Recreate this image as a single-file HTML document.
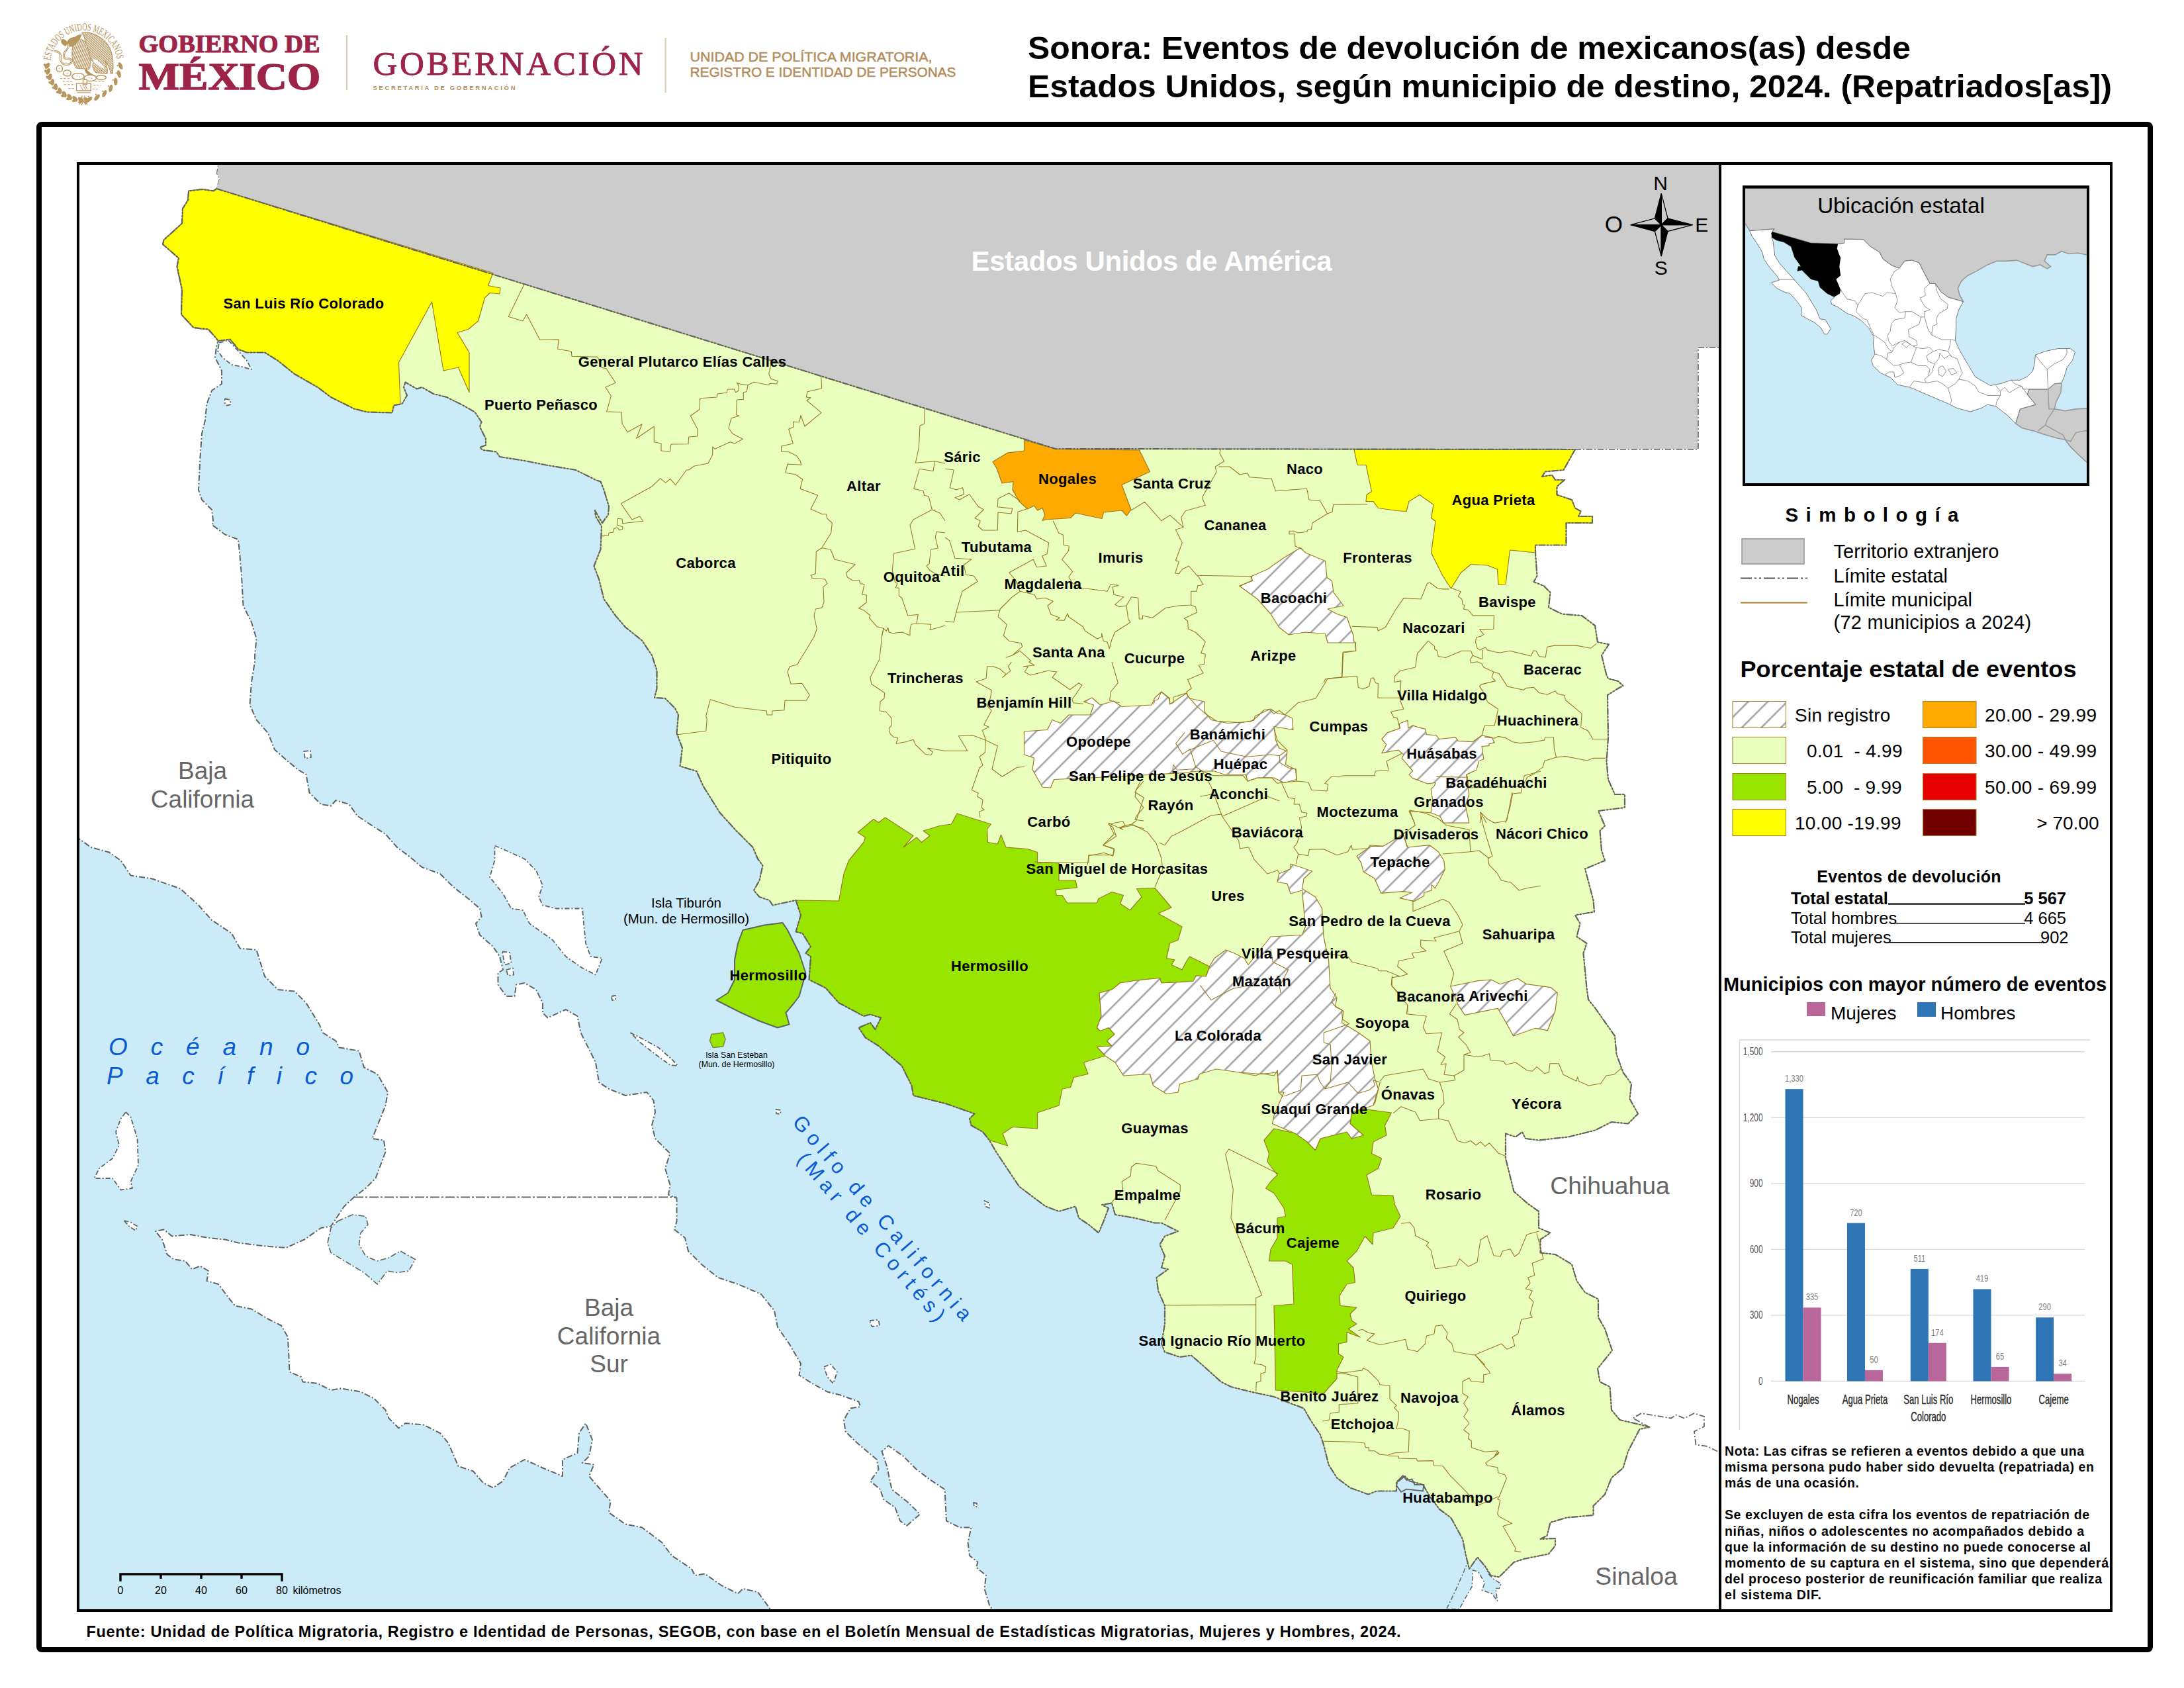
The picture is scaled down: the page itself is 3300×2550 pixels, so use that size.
<!DOCTYPE html>
<html lang="es"><head><meta charset="utf-8"><title>Sonora: Eventos de devolución de mexicanos(as) desde Estados Unidos, 2024</title>
<style>html,body{margin:0;padding:0;background:#fff}svg{display:block}text{white-space:pre}</style></head><body>
<svg width="3300" height="2550" viewBox="0 0 3300 2550">
<defs>
<pattern id="hatch" patternUnits="userSpaceOnUse" width="20.86" height="20.86" patternTransform="rotate(45)"><rect width="20.86" height="20.86" fill="#fff"/><line x1="11" y1="-1" x2="11" y2="22" stroke="#A3A3A3" stroke-width="2.6"/></pattern>
<clipPath id="mapclip"><rect x="120" y="249" width="2477" height="2182"/></clipPath>
<clipPath id="insetclip"><rect x="2637" y="285" width="516" height="445"/></clipPath>
</defs>
<rect width="3300" height="2550" fill="#fff"/>
<g id="header">
<g transform="translate(55,25) scale(0.08295)">
<defs><pattern id="sealh" patternUnits="userSpaceOnUse" width="26" height="26" patternTransform="rotate(-35)"><rect width="26" height="26" fill="#fff"/><rect width="26" height="15" fill="#B8975F"/></pattern><pattern id="sealv" patternUnits="userSpaceOnUse" width="30" height="30" patternTransform="rotate(20)"><rect width="30" height="30" fill="#fff"/><rect width="17" height="30" fill="#B8975F"/></pattern><path id="sealarc" d="M 258,802 A 610,610 0 0 1 1472,802"/></defs>
<text font-family="'Liberation Serif', serif" font-size="192" fill="#B8975F" stroke="#B8975F" stroke-width="1" textLength="1770" lengthAdjust="spacingAndGlyphs"><textPath href="#sealarc">ESTADOS UNIDOS MEXICANOS</textPath></text>
<path d="M830,300 C1000,260 1230,380 1330,560 C1400,690 1410,900 1385,1040 L1350,1035 C1340,930 1300,860 1250,800 C1290,900 1300,980 1290,1040 L1080,1020 C1020,960 1010,900 1040,830 C960,760 900,640 900,520 C890,420 870,350 830,300 Z" fill="url(#sealh)" stroke="#B8975F" stroke-width="14"/>
<path d="M1030,760 C1120,800 1200,870 1250,960 C1180,930 1100,880 1040,830 Z" fill="#fff"/>
<path d="M700,420 C800,380 900,430 930,560 C980,700 1010,860 960,960 L720,940 C680,860 640,760 650,650 C655,560 660,480 700,420 Z" fill="url(#sealv)" stroke="#B8975F" stroke-width="12"/>
<path d="M560,520 C540,440 600,380 700,370 C760,330 800,320 830,330 C800,400 760,470 700,520 C650,560 600,560 560,520 Z" fill="#B8975F"/>
<path d="M570,470 C520,400 470,400 450,430 C440,470 470,520 540,540 Z" fill="#B8975F"/>
<path d="M900,940 C940,1000 1020,1060 1090,1080 L1010,1100 C940,1080 900,1030 880,980 Z" fill="#B8975F"/>
<path d="M335,630 C420,640 450,680 440,760 C430,850 520,900 610,860 C680,820 640,760 560,770 C480,770 480,680 540,620 C590,570 600,540 580,500" fill="none" stroke="#B8975F" stroke-width="34" stroke-linecap="round"/>
<path d="M335,630 C420,640 450,680 440,760 C430,850 520,900 610,860 C680,820 640,760 560,770 C480,770 480,680 540,620 C590,570 600,540 580,500" fill="none" stroke="#fff" stroke-width="10" stroke-linecap="round"/>
<ellipse cx="420" cy="950" rx="55" ry="60" fill="#fff" stroke="#B8975F" stroke-width="18"/>
<ellipse cx="560" cy="1030" rx="70" ry="55" fill="#fff" stroke="#B8975F" stroke-width="18"/>
<ellipse cx="760" cy="1090" rx="110" ry="60" fill="#fff" stroke="#B8975F" stroke-width="18"/>
<ellipse cx="980" cy="1120" rx="110" ry="55" fill="#fff" stroke="#B8975F" stroke-width="18"/>
<ellipse cx="1180" cy="1110" rx="90" ry="40" fill="#fff" stroke="#B8975F" stroke-width="18"/>
<circle cx="740" cy="1085" r="9" fill="#B8975F"/>
<circle cx="790" cy="1100" r="9" fill="#B8975F"/>
<circle cx="960" cy="1115" r="9" fill="#B8975F"/>
<circle cx="1010" cy="1125" r="9" fill="#B8975F"/>
<circle cx="560" cy="1030" r="9" fill="#B8975F"/>
<circle cx="420" cy="950" r="9" fill="#B8975F"/>
<path d="M730,1220 H990 V1350 H730 Z M850,1150 H920 V1240 H850 Z" fill="#fff" stroke="#B8975F" stroke-width="16"/>
<path d="M790,1240 L850,1340 M840,1240 L900,1340 M890,1250 L930,1330" stroke="#B8975F" stroke-width="12" fill="none"/>
<path d="M740,1385 H990" stroke="#B8975F" stroke-width="14"/>
<path d="M430,1130 H620" stroke="#B8975F" stroke-width="12" stroke-dasharray="44 22" fill="none"/>
<path d="M480,1180 H660" stroke="#B8975F" stroke-width="12" stroke-dasharray="44 22" fill="none"/>
<path d="M500,1240 H700" stroke="#B8975F" stroke-width="12" stroke-dasharray="44 22" fill="none"/>
<path d="M580,1310 H700" stroke="#B8975F" stroke-width="12" stroke-dasharray="44 22" fill="none"/>
<path d="M1060,1180 H1250" stroke="#B8975F" stroke-width="12" stroke-dasharray="44 22" fill="none"/>
<path d="M1030,1250 H1180" stroke="#B8975F" stroke-width="12" stroke-dasharray="44 22" fill="none"/>
<path d="M1020,1320 H1120" stroke="#B8975F" stroke-width="12" stroke-dasharray="44 22" fill="none"/>
<ellipse cx="199" cy="897" rx="62" ry="36" transform="rotate(121 199 897)" fill="#B8975F"/>
<ellipse cx="171" cy="899" rx="50" ry="26" transform="rotate(46 171 899)" fill="#B8975F"/>
<ellipse cx="214" cy="1000" rx="62" ry="36" transform="rotate(112 214 1000)" fill="#B8975F"/>
<ellipse cx="187" cy="1007" rx="50" ry="26" transform="rotate(37 187 1007)" fill="#B8975F"/>
<ellipse cx="246" cy="1100" rx="62" ry="36" transform="rotate(103 246 1100)" fill="#B8975F"/>
<ellipse cx="220" cy="1111" rx="50" ry="26" transform="rotate(28 220 1111)" fill="#B8975F"/>
<ellipse cx="292" cy="1194" rx="62" ry="36" transform="rotate(94 292 1194)" fill="#B8975F"/>
<ellipse cx="268" cy="1208" rx="50" ry="26" transform="rotate(19 268 1208)" fill="#B8975F"/>
<ellipse cx="353" cy="1279" rx="62" ry="36" transform="rotate(85 353 1279)" fill="#B8975F"/>
<ellipse cx="332" cy="1297" rx="50" ry="26" transform="rotate(10 332 1297)" fill="#B8975F"/>
<ellipse cx="427" cy="1354" rx="62" ry="36" transform="rotate(76 427 1354)" fill="#B8975F"/>
<ellipse cx="408" cy="1375" rx="50" ry="26" transform="rotate(1 408 1375)" fill="#B8975F"/>
<ellipse cx="511" cy="1416" rx="62" ry="36" transform="rotate(67 511 1416)" fill="#B8975F"/>
<ellipse cx="496" cy="1440" rx="50" ry="26" transform="rotate(-8 496 1440)" fill="#B8975F"/>
<ellipse cx="604" cy="1465" rx="62" ry="36" transform="rotate(58 604 1465)" fill="#B8975F"/>
<ellipse cx="593" cy="1491" rx="50" ry="26" transform="rotate(-17 593 1491)" fill="#B8975F"/>
<ellipse cx="703" cy="1498" rx="62" ry="36" transform="rotate(49 703 1498)" fill="#B8975F"/>
<ellipse cx="697" cy="1525" rx="50" ry="26" transform="rotate(-26 697 1525)" fill="#B8975F"/>
<ellipse cx="807" cy="1515" rx="62" ry="36" transform="rotate(40 807 1515)" fill="#B8975F"/>
<ellipse cx="804" cy="1543" rx="50" ry="26" transform="rotate(-35 804 1543)" fill="#B8975F"/>
<ellipse cx="912" cy="1516" rx="62" ry="36" transform="rotate(31 912 1516)" fill="#B8975F"/>
<ellipse cx="914" cy="1544" rx="50" ry="26" transform="rotate(-44 914 1544)" fill="#B8975F"/>
<ellipse cx="1531" cy="897" rx="70" ry="34" transform="rotate(64 1531 897)" fill="#B8975F"/>
<ellipse cx="1477" cy="893" rx="14" ry="14" fill="#B8975F"/>
<ellipse cx="1504" cy="1045" rx="70" ry="34" transform="rotate(77 1504 1045)" fill="#B8975F"/>
<ellipse cx="1451" cy="1029" rx="14" ry="14" fill="#B8975F"/>
<ellipse cx="1444" cy="1184" rx="70" ry="34" transform="rotate(90 1444 1184)" fill="#B8975F"/>
<ellipse cx="1396" cy="1156" rx="14" ry="14" fill="#B8975F"/>
<ellipse cx="1354" cy="1306" rx="70" ry="34" transform="rotate(103 1354 1306)" fill="#B8975F"/>
<ellipse cx="1313" cy="1268" rx="14" ry="14" fill="#B8975F"/>
<ellipse cx="1239" cy="1404" rx="70" ry="34" transform="rotate(116 1239 1404)" fill="#B8975F"/>
<ellipse cx="1208" cy="1358" rx="14" ry="14" fill="#B8975F"/>
<ellipse cx="1104" cy="1474" rx="70" ry="34" transform="rotate(129 1104 1474)" fill="#B8975F"/>
<ellipse cx="1085" cy="1422" rx="14" ry="14" fill="#B8975F"/>
<ellipse cx="958" cy="1511" rx="70" ry="34" transform="rotate(142 958 1511)" fill="#B8975F"/>
<ellipse cx="950" cy="1457" rx="14" ry="14" fill="#B8975F"/>
<path d="M830,1440 V1530 M880,1440 V1530 M780,1600 L850,1530 L930,1600 M820,1610 L860,1540 L900,1610" stroke="#B8975F" stroke-width="16" fill="none"/>
</g>
<text x="209.5" y="78.7" font-family="'Liberation Serif', 'Times New Roman', serif" font-size="38.5" font-weight="bold" fill="#9D2449" text-anchor="start" textLength="274" lengthAdjust="spacingAndGlyphs" stroke="#9D2449" stroke-width="1.1">GOBIERNO DE</text>
<text x="209.5" y="135.4" font-family="'Liberation Serif', 'Times New Roman', serif" font-size="57.5" font-weight="bold" fill="#9D2449" text-anchor="start" textLength="275" lengthAdjust="spacingAndGlyphs" stroke="#9D2449" stroke-width="1.4">MÉXICO</text>
<rect x="523" y="53" width="2" height="83" fill="#D9CBB0"/>
<text x="563.5" y="113.2" font-family="'Liberation Serif', 'Times New Roman', serif" font-size="51" font-weight="normal" fill="#9D2449" text-anchor="start" textLength="408" lengthAdjust="spacing" stroke="#9D2449" stroke-width="0.9">GOBERNACIÓN</text>
<text x="563.5" y="136" font-family="'Liberation Sans', Arial, Helvetica, sans-serif" font-size="9.5" font-weight="bold" fill="#B38E5D" text-anchor="start" textLength="215" lengthAdjust="spacing">SECRETARÍA DE GOBERNACIÓN</text>
<rect x="1004.6" y="57" width="2" height="83" fill="#D9CBB0"/>
<text x="1042.5" y="92.5" font-family="'Liberation Sans', Arial, Helvetica, sans-serif" font-size="20.5" font-weight="normal" fill="#B38E5D" text-anchor="start" textLength="366" lengthAdjust="spacingAndGlyphs" stroke="#B38E5D" stroke-width="0.5">UNIDAD DE POLÍTICA MIGRATORIA,</text>
<text x="1042.5" y="116" font-family="'Liberation Sans', Arial, Helvetica, sans-serif" font-size="20.5" font-weight="normal" fill="#B38E5D" text-anchor="start" textLength="402" lengthAdjust="spacingAndGlyphs" stroke="#B38E5D" stroke-width="0.5">REGISTRO E IDENTIDAD DE PERSONAS</text>
<text x="1553" y="89" font-family="'Liberation Sans', Arial, Helvetica, sans-serif" font-size="48.5" font-weight="bold" fill="#000" text-anchor="start" textLength="1334" lengthAdjust="spacingAndGlyphs">Sonora: Eventos de devolución de mexicanos(as) desde</text>
<text x="1553" y="146.5" font-family="'Liberation Sans', Arial, Helvetica, sans-serif" font-size="48.5" font-weight="bold" fill="#000" text-anchor="start" textLength="1638" lengthAdjust="spacingAndGlyphs">Estados Unidos, según municipio de destino, 2024. (Repatriados[as])</text>
</g>
<rect x="59" y="188" width="3190" height="2304" fill="none" stroke="#000" stroke-width="8" rx="4"/>
<g id="map" clip-path="url(#mapclip)">
<rect x="118" y="247" width="2482" height="2186" fill="#CCEBF9"/>
<polygon points="2300,679 2597,679 2597,2431 2188,2431 2200,2420 2215,2400 2220,2370 2250,2300 2250,1750 2300,1000" fill="#fff" stroke="none" stroke-width="0" />
<rect x="2560" y="520" width="45" height="170" fill="#fff"/>
<polygon points="100,230 330,230 330,249 328,262 332,270 327.5,285 322.5,288.5 305,286 285,288.5 284,302.5 276,315 275,337.5 247.5,362.5 246,369 270,390 267.5,402.5 275,437.5 274,475 292.5,495 315,497.5 330,515 327.5,520 325,540 335,560 335,580 320,590 312.5,610 310,635 305,655 302.5,690 300,740 305,755 320,770 322.5,790 320,792.5 340,807.5 360,815 362.5,840 365,870 367.5,915 380,940 387.5,965 385,990 385,1000 380,1030 377.5,1065 387.5,1087.5 405,1107.5 415,1132.5 435,1150 450,1162.5 462.5,1170 467.5,1197.5 485,1215 500,1217.5 507.5,1209 527.5,1215 540,1232.5 562.5,1247.5 582.5,1260 600,1280 620,1295 637.5,1310 665,1320 685,1340 707.5,1357.5 725,1372.5 727.5,1385 719,1395 725,1412.5 745,1430 755,1445 760,1465 752.5,1470 752.5,1487.5 765,1505 777.5,1505 780,1487.5 792.5,1485 810,1495 820,1515 820,1530 827.5,1537.5 855,1525 872.5,1535 877.5,1560 890,1585 900,1605 905,1635 920,1645 945,1655 977.5,1650 987.5,1662.5 990,1680 985,1700 990,1720 1012.5,1742.5 1005,1765 1012.5,1790 1010,1805 1022.5,1810 1022.5,1845 1019,1857.5 1035,1870 1040,1890 1060,1910 1085,1930 1115,1940 1150,1955 1170,1980 1175,2005 1192.5,2030 1210,2060 1207.5,2077.5 1227.5,2090 1250,2102.5 1270,2107.5 1297.5,2117.5 1300,2125 1285,2127.5 1275,2145 1277.5,2162.5 1292.5,2177.5 1310,2192.5 1325,2205 1327.5,2220 1315,2237.5 1330,2250 1335,2265 1352.5,2277.5 1360,2297.5 1370,2305 1390,2287.5 1372.5,2270 1347.5,2250 1340,2215 1332.5,2192.5 1342.5,2184 1365,2200 1385,2220 1405,2235 1427.5,2250 1430,2297.5 1450,2307.5 1467.5,2307.5 1462.5,2330 1465,2350 1477.5,2360 1475,2367.5 1490,2380 1487.5,2400 1495,2425 1500,2432.5 1505,2450 1180,2450 1165,2432.5 1145,2405 1122.5,2400 1115,2407.5 1090,2395 1065,2377.5 1050,2380 1045,2370 1015,2350 1000,2330 970,2307.5 945,2302.5 920,2285 922.5,2267.5 905,2247.5 890,2230 897.5,2212.5 880,2210 890,2200 895,2175 885,2150 875,2165 872.5,2195 850,2205 850,2230 820,2217.5 792.5,2205 770,2217.5 760,2237.5 745,2247.5 730,2240 715,2222.5 692.5,2215 677.5,2180 665,2165 640,2152.5 612.5,2150 602.5,2157.5 587.5,2142.5 582.5,2130 565,2112.5 545,2102.5 515,2097.5 500,2100 480,2090 457.5,2087.5 455,2080 437.5,2072.5 435,2020 425,2002.5 405,1992.5 380,1977.5 355,1972.5 345,1960 330,1940 312.5,1935 315,1920 302.5,1912.5 290,1917.5 280,1905 262.5,1902.5 252.5,1895 245,1872.5 235,1860 247.5,1857.5 260,1867.5 287.5,1865 315,1870 340,1872.5 360,1877.5 400,1882.5 432.5,1885 460,1872.5 485,1855 500,1852.5 510,1837.5 520,1822.5 535,1808.5 552.5,1795 567.5,1780 582.5,1740 580,1722.5 562.5,1720 582.5,1670 586,1650 570,1622.5 550,1612.5 542.5,1587.5 512.5,1582.5 507.5,1572.5 487.5,1560 482.5,1547.5 462.5,1515 445,1497.5 420,1495 400,1475 387.5,1435 362.5,1432.5 350,1410 320,1390 300,1367.5 272.5,1342.5 230,1327.5 197.5,1322.5 182.5,1300 165,1287.5 137.5,1280 120,1267.5 100,1260" fill="#fff" stroke="#606463" stroke-width="2" stroke-dasharray="9 3 2 3" stroke-linejoin="round"/>
<polygon points="510,1845 532.5,1835 552.5,1837.5 556,1850 545,1862.5 542.5,1880 552.5,1897.5 570,1905 587.5,1900 605,1890 627.5,1902.5 617.5,1920 600,1922.5 585,1920 570,1940 550,1922.5 525,1907.5 500,1892.5 495,1877.5 500,1855" fill="#CCEBF9" stroke="#606463" stroke-width="1.6" stroke-dasharray="9 3 2 3"/>
<polygon points="747.5,1277.5 765,1285 792.5,1297.5 810,1315 820,1337.5 814,1355 820,1367.5 840,1372.5 880,1372.5 882.5,1400 885,1425 892.5,1445 910,1447.5 900,1472.5 880,1462.5 855,1445 835,1420 800,1395 790,1375 772.5,1372.5 760,1350 740,1325 747.5,1300" fill="#fff" stroke="#606463" stroke-width="1.8" stroke-dasharray="7 3 2 3" stroke-linejoin="round"/>
<polygon points="190,1680 197.5,1687.5 207.5,1720 209,1760 197.5,1785 200,1795 182.5,1797.5 170,1780 142.5,1780 150,1765 170,1750 180,1730 175,1710 182.5,1690" fill="#fff" stroke="#606463" stroke-width="1.8" stroke-dasharray="7 3 2 3" stroke-linejoin="round"/>
<polygon points="331,518 345,514 357.5,527.5 372.5,544 380,558 365,554 350,551 336,540 329,530" fill="#fff" stroke="#606463" stroke-width="1.8" stroke-dasharray="7 3 2 3" stroke-linejoin="round"/>
<polygon points="952.5,1560 970,1569 995,1582.5 1015,1600 1024,1610 1012.5,1609 990,1592.5 967.5,1575" fill="#fff" stroke="#606463" stroke-width="1.8" stroke-dasharray="7 3 2 3" stroke-linejoin="round"/>
<polygon points="340,602.5 347.5,604 349,611 342.5,612.5 339,607.5" fill="#fff" stroke="#606463" stroke-width="1.8" stroke-dasharray="7 3 2 3" stroke-linejoin="round"/>
<polygon points="459,1135 469,1134 470,1144 461,1146" fill="#fff" stroke="#606463" stroke-width="1.8" stroke-dasharray="7 3 2 3" stroke-linejoin="round"/>
<polygon points="759,1437.5 770,1439 772.5,1455 762.5,1457.5" fill="#fff" stroke="#606463" stroke-width="1.8" stroke-dasharray="7 3 2 3" stroke-linejoin="round"/>
<polygon points="765,1465 775,1462.5 776,1472.5 767.5,1474" fill="#fff" stroke="#606463" stroke-width="1.8" stroke-dasharray="7 3 2 3" stroke-linejoin="round"/>
<polygon points="924,1505 930,1504 930,1510 925,1511" fill="#fff" stroke="#606463" stroke-width="1.8" stroke-dasharray="7 3 2 3" stroke-linejoin="round"/>
<polygon points="187.5,1844 197.5,1846.5 207.5,1852.5 205,1859 195,1852.5" fill="#fff" stroke="#606463" stroke-width="1.8" stroke-dasharray="7 3 2 3" stroke-linejoin="round"/>
<polygon points="1314,1995 1327.5,1994 1329,2002.5 1317.5,2004" fill="#fff" stroke="#606463" stroke-width="1.8" stroke-dasharray="7 3 2 3" stroke-linejoin="round"/>
<polygon points="1245,2065 1255,2061 1265,2072.5 1259,2090 1250,2080" fill="#fff" stroke="#606463" stroke-width="1.8" stroke-dasharray="7 3 2 3" stroke-linejoin="round"/>
<polygon points="1487.5,1814 1495,1817.5 1495,1825 1489,1822.5" fill="#fff" stroke="#606463" stroke-width="1.8" stroke-dasharray="7 3 2 3" stroke-linejoin="round"/>
<polygon points="1471,2270 1476,2271 1476,2276 1472,2276" fill="#fff" stroke="#606463" stroke-width="1.8" stroke-dasharray="7 3 2 3" stroke-linejoin="round"/>
<polygon points="1172.5,1676 1180,1677 1179,1683 1173,1682" fill="#fff" stroke="#606463" stroke-width="1.8" stroke-dasharray="7 3 2 3" stroke-linejoin="round"/>
<polygon points="2220.1,2354.1 2229.7,2350 2243.4,2363.7 2248.9,2377.5 2257.1,2385.7 2268.1,2392.6 2265.4,2399.5 2259.9,2399.5 2262.6,2418.7 2254.4,2407.7 2239.3,2402.2 2243.4,2391.2 2233.8,2374.7 2225.5,2372 2224.2,2396.7 2213.2,2415.9 2204.9,2431 2185.7,2431 2199.5,2402.2 2210.4,2377.5" fill="#CCEBF9" stroke="#606463" stroke-width="1.5" stroke-dasharray="7 3 2 3"/>
<polygon points="330,249 2597,249 2597,525 2566,525 2566,678 1595,678 327,285 332,270 328,262" fill="#CCCCCC" stroke="none" stroke-width="0" />
<polygon points="327.5,285 322.5,288.5 305,286 285,288.5 284,302.5 276,315 275,337.5 247.5,362.5 246,369 270,390 267.5,402.5 275,437.5 274,475 292.5,495 315,497.5 330,515 347.5,512.5 360,527.5 372.5,532.5 400,532.5 420,545 445,565 480,585 500,600 535,617.5 555,622.5 592.5,623.5 595,612.5 607.5,610 615,597.5 610,585 612.5,577.5 630,587.5 637.5,585 655,595 675,600 700,612.5 717.5,622.5 727.5,637.5 725,645 734,662.5 734,672.5 725,676 730,680 750,682.5 755,690 792.5,696 825,702.5 870,710 900,725 907.5,727.5 912.5,740 920,765 919,777.5 910,790 902.5,777.5 899,771 900,780 909,795 907.5,830 897.5,855 905,875 912.5,905 930,930 945,947.5 970,967.5 985,990 992.5,1012.5 992.5,1040 989,1054 1005,1055 1020,1070 1025,1080 1022.5,1107.5 1031,1130 1027.5,1157.5 1052.5,1165 1062.5,1187.5 1087.5,1227.5 1112.5,1255 1137.5,1280 1145,1297.5 1152.5,1307.5 1147.5,1330 1139,1345 1147.5,1355 1162.5,1360 1167.5,1367.5 1202.5,1360 1210,1382.5 1202.5,1407.5 1212.5,1410 1225,1430 1217.5,1440 1225,1445 1222.5,1480 1247.5,1492.5 1267.5,1515 1305,1535 1315,1532.5 1331,1537.5 1322.5,1555 1315,1545 1297.5,1552.5 1307.5,1567.5 1327.5,1580 1345,1595 1362.5,1610 1377.5,1640 1380,1655 1430,1667.5 1472.5,1682.5 1465,1690 1467.5,1700 1485,1710 1495,1722.5 1505,1740 1525,1770 1540,1792.5 1560,1807.5 1580,1822.5 1600,1830 1625,1822.5 1630,1840 1645,1850 1660,1862.5 1667.5,1845 1675,1825 1665,1820 1680,1817.5 1685,1835 1715,1840 1745,1847.5 1755,1847.5 1780,1860 1760,1867.5 1752.5,1880 1760,1897.5 1755,1915 1765,1917.5 1747.5,1930 1750,1950 1760,1972.5 1760,2000 1755,2030 1760,2042.5 1782.5,2050 1800,2047.5 1820,2065 1845,2087.5 1860,2095 1890,2102.5 1925,2110 1950,2120 1970,2127.5 1980,2145 1995,2167.5 2000,2182.5 2007.5,2212.5 2020,2232.5 2040,2247.5 2067.5,2257.5 2080,2252.5 2110,2252.5 2110,2240 2122.5,2230 2130,2237.5 2150,2242.5 2160,2260 2175,2280 2192,2292.5 2195,2297.5 2210,2325 2215,2350 2220,2370 2232.5,2352.5 2245,2367.5 2252.5,2380 2265,2382.5 2287.5,2360 2302.5,2355 2340,2347.5 2350,2335 2350,2324 2327.5,2325 2337.5,2320 2342.5,2300 2367.5,2292.5 2407.5,2289 2407.5,2275 2425,2257.5 2435,2232.5 2452.5,2217.5 2460,2192.5 2477.5,2159 2492.5,2156 2480,2152.5 2447.5,2145 2435,2130 2432.5,2095 2417.5,2087.5 2414,2067.5 2436,2040 2425,2007.5 2415,1990 2415,1962.5 2395,1952.5 2382.5,1935 2375,1910 2350,1895 2327.5,1892.5 2327.5,1872.5 2342.5,1862.5 2325,1855 2325,1830 2307.5,1817.5 2287.5,1800 2280,1770 2275,1750 2275,1712.5 2290,1717.5 2300,1710 2305,1720 2325,1722.5 2370,1717.5 2410,1707.5 2435,1695 2460,1697.5 2475,1682.5 2462.5,1660 2465,1637.5 2452.5,1620 2442.5,1592.5 2440,1565 2410,1522.5 2400,1510 2397.5,1492.5 2392.5,1440 2397.5,1425 2382.5,1415 2387.5,1395 2380,1382.5 2409,1377.5 2407.5,1360 2395,1312.5 2425,1300 2420,1285 2417.5,1255 2425,1247.5 2415,1225 2455,1220 2455,1200 2440,1200 2430,1177.5 2427.5,1150 2430,1115 2429,1050 2445,1040 2452.5,1036 2445,1029 2430,1025 2427.5,1020 2420,990 2431,973.5 2414,970 2410,945 2390,930 2360,927.5 2340,917.5 2342.5,895 2332.5,885 2317.5,879 2322.5,870 2320,835 2320,823.5 2366.5,823.5 2366.5,790 2406,790 2406,780 2385,780 2389,772.5 2380,767.5 2375,755 2352.5,747.5 2352.5,735 2364,725 2350,725 2345,717.5 2330,720 2335,712.5 2362.5,710 2380,679 1595,678 327,285" fill="#E8FFBE" stroke="none" stroke-width="0" />
<polygon points="327.5,285 322.5,288.5 305,286 285,288.5 284,302.5 276,315 275,337.5 247.5,362.5 246,369 270,390 267.5,402.5 275,437.5 274,475 292.5,495 315,497.5 330,515 347.5,512.5 360,527.5 372.5,532.5 400,532.5 420,545 445,565 480,585 500,600 535,617.5 555,622.5 592.5,623.5 595,612.5 607.5,610 605,610 602.5,547.5 652.5,456 670,560 692.5,555 709,592.5 709,532.5 691,502.5 707.5,497.5 722.5,485 732.5,450 740,442.5 755,444 756,435 737.5,431.5 745,412.5" fill="#FFFF00" stroke="#9A7B25" stroke-width="1.2" stroke-linejoin="round"/>
<polygon points="2046,679 2380,679 2362.5,710 2335,712.5 2330,720 2345,717.5 2350,725 2364,725 2352.5,735 2352.5,747.5 2375,755 2380,767.5 2389,772.5 2385,780 2406,780 2406,790 2366.5,790 2366.5,823.5 2320,823.5 2320,835 2281.5,831 2275,882.5 2264,883.5 2262.5,860 2247.5,854 2222.5,852.5 2207.5,865 2192.5,889 2180,870 2162.5,835 2169,787.5 2162.5,782.5 2166,762.5 2145,747.5 2129,757.5 2125,772.5 2110,771.5 2082.5,767.5 2075,757.5 2064,757.5 2065,747.5 2072.5,742.5 2064,702.5 2051,702.5" fill="#FFFF00" stroke="#9A7B25" stroke-width="1.2" stroke-linejoin="round"/>
<polygon points="1547.5,665 1595,678.5 1721.5,680 1737.5,712.5 1695,732.5 1709,770 1702.5,779 1695,771 1667.5,774 1665,783.5 1625,775 1617.5,782.5 1580,785 1575,786.5 1579,777.5 1575,767.5 1567.5,771 1562.5,764 1552.5,769 1540,757.5 1530,740 1531,727.5 1514,730 1506,707.5 1500,697.5 1522.5,684 1547.5,681" fill="#FFAA00" stroke="#9A7B25" stroke-width="1.2" stroke-linejoin="round"/>
<polygon points="1202.5,1360 1267.5,1361 1275,1320 1282.5,1300 1305,1272.5 1307.5,1265 1296,1257.5 1320,1237.5 1327.5,1242.5 1337.5,1235 1380,1262.5 1365,1280 1385,1265 1392.5,1272.5 1405,1262.5 1395,1255 1420,1247.5 1437.5,1245 1446,1229 1497.5,1245 1491.5,1252.5 1492.5,1272.5 1507.5,1275 1512.5,1261 1520,1280 1552.5,1282.5 1567.5,1287.5 1567.5,1304 1580,1302.5 1600,1304 1600,1330 1625,1330 1627.5,1341 1595,1344 1596,1352.5 1605,1352.5 1612.5,1364 1657.5,1364 1660,1357.5 1680,1347.5 1697.5,1352.5 1692.5,1365 1707.5,1375 1725,1355 1717.5,1342.5 1745,1341.5 1770,1371 1750,1380 1786,1400 1780,1420 1767.5,1425 1762.5,1447.5 1775,1450 1770,1457.5 1786,1465 1792.5,1452.5 1797.5,1445 1827.5,1460 1822.5,1475 1807.5,1474 1802.5,1482.5 1755,1485 1752.5,1477.5 1717.5,1481 1692.5,1485 1680,1495 1661,1500 1664,1535 1657.5,1552.5 1662.5,1557.5 1675,1552.5 1684,1562.5 1672.5,1572.5 1680,1580 1657.5,1581.5 1670,1595 1637.5,1605 1644,1622.5 1622.5,1627.5 1617.5,1642.5 1605,1645 1600,1670 1567.5,1681 1567.5,1705 1530,1702.5 1515,1712.5 1522.5,1731 1495,1722.5 1485,1710 1467.5,1700 1465,1690 1472.5,1682.5 1430,1667.5 1380,1655 1377.5,1640 1362.5,1610 1345,1595 1327.5,1580 1307.5,1567.5 1297.5,1552.5 1315,1545 1322.5,1555 1331,1537.5 1315,1532.5 1305,1535 1267.5,1515 1247.5,1492.5 1222.5,1480 1225,1445 1217.5,1440 1225,1430 1212.5,1410 1202.5,1407.5 1210,1382.5" fill="#98E600" stroke="#9A7B25" stroke-width="1.2" stroke-linejoin="round"/>
<polygon points="1925,1705 1960,1712.5 1975,1725 1987.5,1737.5 1995,1720 2035,1710 2042.5,1720 2060,1715 2040,1697.5 2042.5,1680 2040,1672.5 2102.5,1681 2092.5,1700 2095,1715 2075,1725 2072.5,1742.5 2087.5,1750 2082.5,1765 2065,1775 2072.5,1805 2105,1806 2107.5,1820 2116,1837.5 2105,1855 2075,1862.5 2074,1880 2062.5,1867.5 2050,1890 2035,1905 2045,1915 2047.5,1937.5 2035,1940 2024,1957.5 2025,1972.5 2050,1975 2040,1985 2042.5,1995 2050,2000 2037.5,2007.5 2055,2020 2035,2012.5 2035,2027.5 2022.5,2030 2022.5,2045 2030,2050 2020,2070 2020,2082.5 2000,2105 1927.5,2100 1925,1972.5 1955,1970 1952.5,1910 1942.5,1905 1917.5,1905 1920,1887.5 1930,1870 1930,1840 1942.5,1837.5 1940,1825 1925,1802.5 1912.5,1795 1920,1785 1930,1775 1915,1755 1917.5,1742.5 1910,1722.5" fill="#98E600" stroke="#9A7B25" stroke-width="1.2" stroke-linejoin="round"/>
<polygon points="1122.5,1405 1155,1397.5 1182.5,1394 1190,1405 1207.5,1440 1217.5,1470 1207.5,1505 1200,1515 1187.5,1530 1192.5,1547.5 1175,1552.5 1147.5,1542.5 1120,1530 1100,1520 1082.5,1511 1100,1500 1110,1480 1110,1450 1115,1425" fill="#98E600" stroke="#606463" stroke-width="2" stroke-linejoin="round"/>
<polygon points="1075,1562.5 1092.5,1560 1096,1570 1092.5,1581 1077.5,1582.5 1072.5,1572.5" fill="#98E600" stroke="#7A8A3A" stroke-width="1.5" stroke-linejoin="round"/>
<polygon points="1547.5,1105 1582.5,1102.5 1590,1087.5 1602.5,1092.5 1615,1080 1647.5,1080 1652.5,1065 1637.5,1060 1650,1054 1662.5,1065 1682.5,1059 1695,1067.5 1740,1065 1745,1054 1755,1045 1767.5,1055 1767.5,1064 1792.5,1047.5 1797.5,1055 1820,1060 1820,1075 1830,1087.5 1855,1092.5 1890,1090 1900,1082.5 1910,1072.5 1920,1071 1930,1077.5 1942.5,1080 1952.5,1085 1954,1102.5 1925,1097.5 1927.5,1117.5 1932.5,1130 1945,1135 1942.5,1155 1957.5,1162.5 1959,1177.5 1940,1182.5 1925,1175 1900,1175 1885,1180 1882.5,1170 1850,1170 1835,1165 1810,1165 1787.5,1167.5 1745,1170 1697.5,1172.5 1647.5,1175 1592.5,1177.5 1587.5,1190 1575,1189 1560,1162.5 1562.5,1145 1547.5,1140" fill="url(#hatch)" stroke="#9A7B25" stroke-width="1.2" stroke-linejoin="round"/>
<polygon points="1661,1500 1680,1495 1692.5,1485 1717.5,1481 1752.5,1477.5 1755,1485 1802.5,1482.5 1807.5,1474 1822.5,1475 1827.5,1460 1835,1447.5 1852.5,1435 1865,1440 1880,1447.5 1886,1457.5 1900,1440 1920,1415 1967.5,1412.5 1972.5,1400 1967.5,1345 1950,1350 1945,1335 1930,1332.5 1932.5,1320 1950,1312.5 1950,1305 1965,1310 1982.5,1316 1970,1327.5 1967.5,1342.5 1987.5,1355 1997.5,1372.5 2000,1415 2007.5,1450 2010,1492.5 2020,1507.5 2017.5,1520 2030,1527.5 2027.5,1545 2052.5,1560 2070,1572.5 2072.5,1605 2077.5,1630 2082.5,1645 2075,1670 2042.5,1680 2040,1697.5 2060,1715 2042.5,1720 2035,1710 1995,1720 1987.5,1737.5 1975,1725 1957.5,1712.5 1940,1705 1922.5,1697.5 1925,1685 1940,1650 1932.5,1650 1930,1620 1905,1622.5 1872.5,1620 1837.5,1615 1812.5,1622.5 1810,1630 1782.5,1637.5 1780,1650 1762.5,1652.5 1742.5,1640 1737.5,1622.5 1697.5,1625 1685,1605 1670,1595 1657.5,1581.5 1680,1580 1672.5,1572.5 1684,1562.5 1675,1552.5 1662.5,1557.5 1657.5,1552.5 1664,1535" fill="url(#hatch)" stroke="#9A7B25" stroke-width="1.2" stroke-linejoin="round"/>
<polygon points="2050,1293.3 2071.7,1278.3 2090,1278.3 2110,1266.7 2120,1260 2126.7,1280 2160,1276.7 2173.3,1286.7 2181.7,1300 2183.3,1313.3 2175,1330 2168.3,1341.7 2163.3,1336.7 2163.3,1345 2151.7,1348.3 2151.7,1353.3 2136.7,1361.7 2115,1356.7 2133.3,1348.3 2120,1346.7 2086.7,1349.3 2076.7,1326.7 2060,1316.7 2056.7,1303.3" fill="url(#hatch)" stroke="#9A7B25" stroke-width="1.2" stroke-linejoin="round"/>
<polygon points="2087.9,1116.5 2096.2,1106.9 2115.4,1100.1 2114,1093.2 2126.9,1088.2 2127.7,1100.1 2134.6,1095.9 2142.9,1098.7 2153.8,1101.4 2155.2,1109.7 2170.3,1111 2174.5,1116.5 2199.2,1113.8 2203.3,1119.3 2225.3,1120.7 2234.9,1113.8 2239,1111 2254.1,1113.8 2258.2,1122 2250,1123.4 2250,1126.7 2239,1127.5 2241.8,1146.8 2234.9,1149.5 2230.8,1163.2 2215.7,1170.1 2215.7,1174.2 2219.8,1200.3 2214.3,1216.8 2219.8,1243.2 2181.3,1243.2 2175.8,1233.3 2162.1,1227.8 2164.8,1208.6 2162.1,1192.1 2167.6,1186.6 2169,1182.5 2156.6,1183.8 2134.6,1175.6 2129.1,1170.1 2134.6,1164.6 2118.1,1145.4 2120.9,1139.9 2112.6,1133 2087.9,1137.7 2094.8,1124.8" fill="url(#hatch)" stroke="#9A7B25" stroke-width="1.2" stroke-linejoin="round"/>
<polygon points="2191.7,1490 2233.3,1481.7 2253.3,1480 2266.7,1486.7 2293.3,1478.3 2306.7,1486.7 2343.3,1491.7 2353.3,1500 2350,1526.7 2338.3,1556.7 2320,1553.3 2286.7,1565 2276.7,1546.7 2263.3,1523.3 2213.3,1533.3 2203.3,1518.3" fill="url(#hatch)" stroke="#9A7B25" stroke-width="1.2" stroke-linejoin="round"/>
<polygon points="1872.5,885 1892.5,877.5 1890,871 1915,860 1940,842.5 1965,827.5 1972.5,835 2002.5,847.5 2005,872.5 2012.5,877.5 2015,895 2030,915 2006,920 2020,927.5 2035,932.5 2045,960 2046,971 2006,971 2002.5,957.5 1972.5,955 1947.5,959 1932.5,947.5 1920,927.5 1900,905" fill="url(#hatch)" stroke="#9A7B25" stroke-width="1.2" stroke-linejoin="round"/>
<polygon points="2111.5,2237.4 2119.8,2229.1 2125.3,2236 2133.5,2234.6 2137.6,2242.9 2151.4,2242.9 2150,2252.5 2125.3,2249.7 2117,2253.8 2110.2,2244.2" fill="#CCEBF9" stroke="#606463" stroke-width="1.8" />
<g fill="none" stroke="#9A7B25" stroke-width="1.1" stroke-linejoin="round">
<polyline points="792.7,428.3 768.3,478.3 790,485 795.7,475 815.7,513.3 844,512.7 842.7,527.3 863.3,530.7 864,538.3 903.3,539.3 908.3,555 916,556.7 930,578.3 915,585 923.3,598.3 916.7,621.7 939.3,622.7 940,640 948.3,652.7 970,640.7 961.7,662.3 988.3,644.3 988.3,667.7 999,670 999,681 1012.3,682.3 1014,671 1040,670.7 1040.7,660 1054,659 1054,648.3 1043.3,628.3 1057.3,618.3 1057.7,601.7 1083.3,600 1084,595 1098.3,593.3 1099,588.3 1109.3,587.7 1111.7,592.7 1116,590 1116,581.7 1113.3,578.3 1118.3,580 1130,581.7 1139.3,577.3 1161.7,581.7 1163.3,579.3 1173.3,580 1175.7,575.7 1165,572.3 1161.7,565 1164,555 1165,547.7"/>
<polyline points="1130,581.7 1128.3,591.7 1123.3,592.7 1123.3,603.3 1113.3,604 1112.7,626.7 1116.7,628.3 1105,631.7 1101,646.7 1106.7,655 1122.3,663.3 1110,670 1103.3,667.7 1080,678.3 1076.7,675 1076.7,686.7 1070,700 1049,704 1040.7,710 1037.3,710 1020.7,732.7 1012.7,723.3 1005.7,729.3 997.7,722.7 985,735 938.3,760.7 955,785 966.7,780 971.7,787.3 940.7,790.7 940,784 933.3,783.3 932.7,793.3 940.7,795.7 940.7,799.3 935.7,800.7 933.3,797.3 927.7,798.3 926.7,804 920,805 919.3,809 913.3,808.3 912.3,810 908.3,809.3"/>
<polyline points="1240.7,568.3 1241.7,586.7 1220,591.7 1218.3,600 1225,600.7 1219,605 1241,623.3 1216,644 1210,627.7 1207.7,637.7 1198.3,637.3 1199,645 1191.7,648.3 1198.3,670 1180.7,674 1180.7,682.3 1191.7,682.7 1203.3,688.3 1209.3,696.7 1210.7,702.3 1190,701 1186.7,714.3 1201.7,716.7 1212.7,724 1209,738.3 1235.7,748.3 1225,769 1242.3,776.7 1248.3,776.7 1250,783.3 1257.3,790 1255.7,805 1241.7,827.7 1255,830 1261,845 1292.3,852.7 1279,865 1280,871.7 1288.3,876.7 1298.3,876.7 1300,881.7 1306,882.7 1302.7,898.3 1309.3,899 1309.3,910 1297.7,919 1305,921.7 1315,930 1313.3,933.3 1325,946.7 1335,949.3 1339.3,953.3 1341.7,948.3 1343.3,955 1350.7,957.3 1353.3,956 1363.3,955 1375,960"/>
<polyline points="1241.7,827.7 1233.3,833.3 1232.3,866.7 1226.7,868.3 1226.7,873.3 1246.7,875 1250,881.7 1244,886.7 1245,910 1241.7,918.3 1232.3,920 1230,930 1234.3,950 1230,962"/>
<polyline points="1397.3,616 1396.7,640 1390,643.3 1388.3,676.7 1383.3,699.3 1412.7,696.7 1410,711.7 1389.3,708.3 1380.7,738.3 1395,741.7 1396.7,748.3 1403.3,750 1408.3,770 1420,775 1428,786.7"/>
<polyline points="1412.7,696.7 1428,700"/>
<polyline points="1408.3,770 1380,785 1375,793.3 1382.7,829.3 1350.7,836 1348.3,861.7 1352.7,880 1356,881 1353.3,887.7 1358.3,888.3 1358.3,900 1362.7,903.3 1371.7,930 1387.3,928.3 1385,941.7 1376.7,943.3 1375,951.7 1375,960"/>
<polyline points="1428,805 1415,803.3 1413.3,811.7 1417.3,828.3 1406.7,830 1404,851.7 1400,855 1405,861.7 1413.3,866.7 1428,870"/>
<polyline points="1385,941.7 1406.7,943.3 1405,951.7 1428,945"/>
<polyline points="1335,949.3 1332.3,962"/>
<polyline points="1428,708.3 1441.3,710 1435.3,736.7 1444.7,740 1454.7,736.7 1456.3,746.7 1443,751.7 1449.7,755 1464.7,746.7 1478,765 1486.3,770 1473,782.7 1481.3,786.7 1478,795 1484.7,801 1507.3,801 1508,774 1528,776 1529.7,768.3 1507.3,765.7 1508,753.3 1524.7,745 1541.3,756.7"/>
<polyline points="1553,768.3 1538,773.3 1537.3,803.3 1549.7,801 1584.7,820 1582,836.7 1574.7,840 1581.3,855 1566.3,856.7 1561.3,845 1524.7,865 1534.7,876.7 1541.3,893.3 1529.7,901.7 1511.3,920 1508,931.7"/>
<polyline points="1591.3,786.7 1599.7,805 1606.3,808.3 1607,823.3 1615.3,825 1614.7,831.7 1604.7,845 1620.7,863.3 1614.7,871.7 1621.3,881.7 1634.7,888.3 1673,893.3 1678,883.3 1690.3,884.3 1681.3,886.7 1683,898.3 1698,901.7 1684.7,913.3 1691.3,916.7 1702,915 1709.7,901.7 1719.7,903.3 1721.3,935 1726.3,935 1726.3,930 1741.3,933.3 1761.3,918.3 1781.3,915 1799.7,914 1799.7,893.3 1808,893.3 1809.7,885 1818,883.3 1811.3,871.7 1808.7,869.3"/>
<polyline points="1808.7,869.3 1796.3,855 1786.3,860 1781.3,866.7 1775.7,866 1781.3,848.3 1776.3,846.7 1786.3,820 1776.3,800 1788,796.7 1784.7,781.7 1791.3,771.7 1821.3,763.3 1816.3,751.7 1838,713.3 1836.3,705 1849.7,696.7 1843,685 1844,679"/>
<polyline points="1709,771 1729.7,758.3 1754.7,786.7 1768,778.3 1788,796.7"/>
<polyline points="1841.3,705 1858,705 1873,716.7 1884.7,715 1888,720.7 1921.3,723.3 1927.3,741.7 1974.7,738.3 1978,755 1994.7,756.7 2005.7,776 2013,773.3 2014.7,762.3 2066.3,761.7"/>
<polyline points="2005.7,776 1983,790 1981.3,800 1976.3,800 1974.7,803.3 1961.3,805 1954.7,802.3 1948,802.3 1948,806.7 1956.3,806.7 1957,825 1968.7,830"/>
<polyline points="1808.7,869.3 1891.3,870.7 1892,876.7 1874.7,885"/>
<polyline points="2047.3,970 2048.7,983.3 2029.7,985 2028,1022.7 2006.3,1025 1988,1055 1961.3,1061.7 1941.3,1080"/>
<polyline points="1799.7,914 1806.3,916.7 1808.7,925 1789.7,934.3 1794.7,938.3 1795.3,950 1806.3,955 1821.3,969.3 1814.7,986.7 1821.3,988.3 1819.7,1003.3 1811.3,1005 1818,1016.7 1794.7,1026.7 1800.3,1040 1793,1045 1794.7,1051.7 1808,1066.7 1821.3,1078.3 1838,1089.3 1874.7,1091.7 1894.7,1088.3 1896.3,1081.7 1918,1071.7 1924.7,1078.3 1933,1073.3 1941.3,1080"/>
<polyline points="1702,915 1704.7,935 1708,940 1684.7,955 1679.7,966.7 1676.3,980"/>
<polyline points="1743,1064.3 1744.7,1058.3 1749.7,1056.7 1754.7,1045 1766.3,1055 1768,1063.3 1773,1061.7 1773,1053.3 1793,1046.7"/>
<polyline points="1508,931.7 1521.3,943.3 1516.3,960 1524.7,968.3 1543,971.7 1544.7,976.7 1529.7,990 1541.3,983.3 1558,998.3 1554.7,1000 1563,1005 1546.3,1006.7"/>
<polyline points="1541.3,893.3 1563,898.3 1566.3,905 1579.7,903.3 1591.3,908.3 1583,915 1588,928.3 1601.3,933.3 1595.7,936.7 1608,937.3 1613,926.7 1614.7,931.7 1636.3,946.7 1639.7,953.3 1658,965 1664.7,961.7 1664.7,956.7 1667.3,968.3 1673,970 1676.3,980"/>
<polyline points="1428,811.7 1434.7,816.7 1443,843.3 1468,845 1456.3,853.3 1459.7,868.3 1471.3,870 1477.3,878.3 1454,893.3 1444.7,925 1511.3,921.7"/>
<polyline points="1444.7,925 1441.3,940 1428,938.3"/>
<polyline points="1529.7,990 1519.7,993.3"/>
<polyline points="2042.6,946.2 2081,947.6 2082.4,953.1 2093.4,947.6 2108.5,921.5 2120.9,903.6 2147,905 2156.6,881.1 2160.7,880.3 2171.7,888.5 2179.9,889.9 2189.6,889.9"/>
<polyline points="2193.7,888.5 2207.4,894 2203.3,900.9 2208.8,905 2210.2,913.2 2212.9,914.6 2211.5,920.1 2218.4,921.5 2225.3,929.7 2257.4,929.7 2256.9,950.3 2235.7,950.9 2241.8,958.6 2237.6,961.3 2230.8,962.7 2229.4,969.6 2232.1,979.2 2236.3,981.9 2244.5,977.8 2247.3,981.9 2258.2,984.7 2266.5,986 2281.6,983.3 2313.2,991 2317.3,982.7 2321.4,983.8 2325.5,991.5 2335.2,992.9 2337.9,977.3 2348.9,975.1 2379.1,975.1 2384.6,975.6 2403.8,979.2 2412.1,972.3"/>
<polyline points="2240.4,981.9 2239.6,995.7 2225.3,990.2 2221.2,997 2222.5,1001.2 2232.1,999.8 2239,1002.5 2241.8,1008 2256.9,1014.9 2254.1,1023.1 2259.6,1028.6 2237.6,1034.1 2235.7,1036.9 2244.5,1050.6 2247.3,1060.2 2263.7,1071.2 2258.2,1095.9 2243.1,1096.5 2239,1111"/>
<polyline points="2225.3,990.2 2222.5,983.3 2208.8,983.3 2184.1,993.5 2173.1,991.5 2171.7,983.3 2167.6,980.5 2167.6,976.4 2158,968.2 2141.5,987.4 2138.7,1008 2115.4,1013.5 2107.1,1021.8 2107.1,1030.5 2116.8,1028.6 2115.4,1057.5 2120.9,1071.2 2101.6,1075.3 2105.8,1083.6 2111.3,1084.9 2114,1095.9 2115.4,1100.1"/>
<polyline points="2048.1,969.6 2048.9,983.3 2028.8,986 2027.5,1023.1 2050.8,1021.8 2052.2,1038.2 2059.1,1041 2068.7,1036.9 2071.4,1024.5 2075.5,1024 2078.3,1031.4 2082.4,1032.7 2081.9,1054.2 2115.4,1054.2"/>
<polyline points="2027.5,1023.1 2002.7,1025.9 2000,1031.4"/>
<polyline points="2256.9,1014.9 2265.1,1017.6 2277.5,1036.9 2302.2,1042.4 2304.9,1039.6 2317.3,1038.2 2325.5,1046.5 2337.9,1049.2 2350.3,1043.7 2353,1047.9 2364,1050.6 2365.4,1057.5 2390.1,1078.1 2388.7,1098.7 2399.7,1104.2 2406.6,1116.5 2429.9,1116.5"/>
<polyline points="2243.1,1113.8 2258.2,1115.2 2263.7,1112.4 2274.7,1114.6 2285.7,1120.7 2296.7,1122.6 2318.7,1120.7 2333.8,1117.9 2334.6,1113.8 2347.5,1113.8 2348.4,1131.6 2351.6,1144 2365.4,1142.6 2398.4,1149 2406.6,1145.4 2425.8,1145.4"/>
<polyline points="2351.6,1144 2333.8,1149.5 2331,1159.1 2315.9,1170.1 2307.7,1174.2 2299.5,1189.3 2298.1,1197.6 2285.7,1199 2281.6,1219.6 2274.7,1243.2"/>
<polyline points="2137.4,1243.2 2129.1,1225.1 2162.1,1227.8"/>
<polyline points="2245.9,1243.2 2237.6,1227.8 2236.3,1243.2"/>
<polyline points="2170.3,1173.4 2215.7,1174.2"/>
<polyline points="1206.7,1000 1205,1004 1193.3,1006.7 1190,1015 1195,1033.3 1211.7,1032.3 1223.3,1050 1218.3,1058.3 1186,1058.3 1185,1072.7 1166.7,1074 1166.7,1080 1159,1080 1158.3,1074 1110,1068.3 1073.3,1056.7 1066.7,1081.7 1068.3,1086.7 1066.7,1104.3 1021.7,1110"/>
<polyline points="1326.7,1000 1315,1023.3 1316.7,1033.3 1336.7,1046.7 1336,1055 1330,1060 1329.3,1074 1338.3,1075 1347.3,1085 1346.7,1096.7 1343.3,1100 1345,1108.3 1350,1113.3 1356.7,1115 1354,1123.3 1368.3,1120.7 1380,1117.3 1383.3,1125 1398.3,1139.3 1406.7,1140.7 1409.3,1136 1401.7,1130 1426.7,1134.3 1461.7,1134.3 1453.3,1120 1448.3,1111.7 1470,1111 1488.3,1117.7 1507.3,1126.7 1499,1161.7 1514.3,1173.3 1536.7,1159.3 1548.3,1158.3"/>
<polyline points="1528.3,1000 1523.3,1006.7 1526.7,1013.3 1515,1023.3 1520,1018.3 1510,1010 1500,1006.7 1491.7,1006.7 1490,1025 1475,1030 1498.3,1042.7 1496.7,1053.3 1491.7,1066.7 1498.3,1073.3 1486.7,1095 1494.3,1098.3 1484.3,1103.3 1489.3,1116.7 1488.3,1136.7 1480,1143.3 1485,1156 1480,1160 1468.3,1193.3 1478.3,1198.3 1476.7,1203.3 1485,1208.3 1483.3,1220 1487.3,1223.3 1480,1226 1481,1235"/>
<polyline points="1563.3,1301.7 1580,1303.3 1645,1302.7 1645,1292.7 1668.3,1288.3 1681.7,1293.3 1684,1283.3 1666.7,1276.7 1686.7,1263.3 1681.7,1250 1675,1245 1696.7,1240.7 1700,1246.7 1691.7,1250.7 1711.7,1246.7 1728,1251.7"/>
<polyline points="1728,1180 1716.7,1193.3 1715,1203.3 1728,1220 1716.7,1233.3 1715,1238.3 1728,1240"/>
<polyline points="1546.7,1006.7 1553.3,1007.3 1548.3,1015 1556.7,1020 1583.3,1013.3 1596.7,1015 1590,1023.3 1616.7,1041.7 1630,1031.7 1635,1035 1620,1056.7 1621.7,1061.7 1636.7,1063.3"/>
<polyline points="1680,1000 1689.3,1031.7 1678.3,1045 1676.7,1058.3 1691.7,1061.7"/>
<polyline points="1790,1106.7 1776.7,1123.3 1786.7,1139.3 1798.3,1131.7 1806.7,1158.3 1816.7,1165 1830,1188.3 1846.7,1233.3 1871.7,1270 1873.3,1281.7 1886.7,1280 1895,1298.3 1915,1320 1930,1315 1933.3,1318.3"/>
<polyline points="1796.7,1133.3 1833.3,1118.3 1845,1135 1883.3,1143.3 1920,1140 1933.3,1141.7 1933.3,1151.7 1946.7,1160 1958.3,1161.7 1959.3,1180 1930,1183.3 1921.7,1175 1900,1175 1885,1180 1878.3,1171.7 1833.3,1171.7 1816.7,1165"/>
<polyline points="1925,1100 1930,1118.3 1945,1133.3 1940,1136.7 1933.3,1141.7"/>
<polyline points="1771.7,1168.3 1772.7,1155 1778.3,1163.3 1803.3,1161.7 1806.7,1158.3"/>
<polyline points="1723.3,1180 1715,1196.7 1728.3,1205 1716.7,1240 1710,1245 1691.7,1250 1696.7,1253.3 1675,1243.3 1683.3,1260 1666.7,1276.7 1683.3,1281.7 1681.7,1291.7 1645,1291.7 1643.3,1306.7"/>
<polyline points="1710,1245 1733.3,1256.7 1746.7,1273.3 1755,1296.7 1756.7,1313.3 1745,1340"/>
<polyline points="1751.7,1273.3 1760,1276.7 1770,1263.3 1786.7,1255 1830,1231.7 1846.7,1230"/>
<polyline points="1813.3,1203.3 1830,1200"/>
<polyline points="1846.7,1233.3 1915,1203.3 1933.3,1210"/>
<polyline points="1936.7,1183.3 1946.7,1205 1956.7,1206.7 1955,1215 1963.3,1215 1966.7,1226.7 1975,1228.3 1973.3,1233.3 1963.3,1235 1966.7,1250 1960,1273.3 1955,1280 1961.7,1290 1958.3,1305"/>
<polyline points="1959.3,1180 1976.7,1181.7 1981.7,1193.3 2005,1195 2006.7,1185 2001.7,1183.3 2011.7,1173.3 2033.3,1171.7 2076.7,1171.7 2078.3,1165 2098.3,1163.3 2095,1150 2118.3,1138.3"/>
<polyline points="1961.7,1290 1976.7,1292.7 1978.3,1283.3 2000,1282.7 2020,1291.7 2036.7,1286.7 2041.7,1276.7 2043.3,1283.3 2066.7,1281.7 2070,1276.7 2090,1278.3"/>
<polyline points="2130,1224 2153.3,1228.3 2173.3,1236.7 2185,1246.7 2220,1253.3 2221.7,1286.7 2180,1290"/>
<polyline points="2130,1224 2138.3,1246.7 2120,1260 2126.7,1280"/>
<polyline points="2236.7,1226.7 2240,1243.3 2246.7,1266.7 2255,1293.3 2248.3,1296.7 2250,1306.7 2261.7,1318.3 2268.3,1330 2283.3,1333.3 2295,1345 2306.7,1341.7 2328,1338.3"/>
<polyline points="2221.7,1286.7 2235,1285 2250,1296.7"/>
<polyline points="2216.7,1171.7 2220,1190 2300,1188.3 2303.3,1171.7 2328,1165"/>
<polyline points="2285,1196.7 2276.7,1240 2258.3,1243.3 2246.7,1236.7 2236.7,1226.7"/>
<polyline points="2135,1360 2135,1376.7 2160,1366.7 2180,1358.3 2190,1363.3 2203.3,1383.3 2210,1396.7 2205,1406.7 2210,1425 2181.7,1436.7 2196.7,1470 2191.7,1490"/>
<polyline points="2205,1406.7 2166.7,1416.7 2170,1421.7 2146.7,1420 2146.7,1430 2155,1436.7 2133.3,1440 2136.7,1446.7 2113.3,1451.7 2111.7,1460 2126.7,1471.7 2115,1475 2095,1466.7 2083.3,1466.7 2081.7,1463.3 2043.3,1453.3 2036.7,1445 2001.7,1440"/>
<polyline points="2115,1475 2103.3,1476.7 2103.3,1490 2111.7,1498.3"/>
<polyline points="1813.3,1488.3 1830,1510.7 1863.3,1493.3 1890,1488.3"/>
<polyline points="1935,1500 1933.3,1490 1946.7,1465 1923.3,1453.3 1920,1433.3"/>
<polyline points="2018.7,1500 2012,1513.3 2018.7,1521.7 2027,1525 2028.7,1540 2038.7,1546.7 2000.3,1560 2000.3,1575 2010.3,1578.3 2012,1610 2010.3,1633.3 2002,1645 2037,1635 2052,1651.7 2068.7,1646.7 2077,1640 2075.3,1631.7 2085.3,1635 2077,1668.3"/>
<polyline points="2127,1518.3 2125.3,1531.7 2155.3,1535 2150.3,1551.7 2155.3,1561.7 2178.7,1560 2172,1588.3 2183.7,1596.7 2177,1608.3 2185.3,1606.7 2182,1623.3 2197,1625 2198.7,1631.7 2175.3,1635"/>
<polyline points="2085.3,1633.3 2092,1625 2150.3,1615 2158.7,1630 2175.3,1635 2180.3,1650 2182,1666.7 2173.7,1676.7 2173.7,1690 2145.3,1692.7 2138.7,1680 2117,1671.7 2105.3,1681.7"/>
<polyline points="2200.3,1516.7 2190.3,1531.7 2202,1540 2205.3,1555 2212,1560 2203.7,1566.7 2215.3,1578.3 2222,1590 2212,1593.3 2212,1616.7 2197,1625"/>
<polyline points="2212,1593.3 2235.3,1596.7 2250.3,1591.7 2252,1601.7 2272,1603.3 2275.3,1608.3 2290.3,1605 2307,1616.7 2315.3,1618.3 2322,1611.7 2333.7,1621.7 2340.3,1620 2342,1606.7 2355.3,1606.7 2362,1623.3 2382,1633.3 2383.7,1626.7 2385.3,1633.3 2400.3,1640 2418.7,1636.7 2427,1625 2438.7,1623.3 2450.3,1613.3"/>
<polyline points="2173.7,1690 2188.7,1693.3 2202,1723.3 2213.7,1726.7 2222,1723.3 2230.3,1730 2237,1725 2243.7,1731.7 2250.3,1726.7 2263.7,1741.7 2275.3,1746.7"/>
<polyline points="2117,1848.3 2130.3,1846.7 2137,1855 2138.7,1866.7 2158.7,1876.7 2155.3,1881.7 2162,1888.3 2168.7,1916.7 2200.3,1911.7 2205.3,1901.7 2218.7,1913.3 2232,1906.7 2237,1873.3 2247,1866.7 2257,1896.7 2267,1898.3 2270.3,1890 2282,1886.7 2288.7,1898.3 2295.3,1893.3 2307,1865 2325.3,1860"/>
<polyline points="2322,1863.3 2332,1901.7 2315.3,1908.3 2318.7,1926.7 2308.7,1930 2312,1938.3 2305.3,1946.7 2315.3,1950 2310.3,1960 2317,1966.7 2312,1985 2315.3,1990 2298.7,1993.3 2293.7,2015 2285.3,2020 2288.7,2033.3 2277,2038.3 2268.7,2030 2252,2036.7 2228.7,2046.7 2243.7,2062"/>
<polyline points="2052,2010 2058.7,2008.3 2067,2013.3 2077,2015 2065.3,2025 2085.3,2031.7 2123.7,2023.3 2127,2038.3 2142,2041.7 2153.7,2030 2155.3,2018.3 2167,2015 2168.7,2003.3 2178.7,2001.7 2187,2013.3 2185.3,2021.7 2193.7,2030 2197,2041.7 2225.3,2046.7 2228.7,2046.7"/>
<polyline points="1872,1620 1897,1625 1905.3,1621.7 1925.3,1625 1930.3,1616.7 1932,1650 1938.7,1656.7"/>
<polyline points="1940.3,1656 1965.3,1646.7 1967,1625 1990.3,1623.3 1993.7,1633.3 2002,1645"/>
<polyline points="1678.3,1818.3 1696.7,1796.7 1695,1785 1708.3,1776.7 1709.3,1763.3 1716.7,1757.3 1746.7,1761.7 1749.3,1768.3 1783.3,1790 1783.3,1800 1760,1843.3"/>
<polyline points="1931.7,1773.3 1856.7,1736 1851.7,1743.3 1863.3,1796.7 1860,1840 1866.7,1856.7 1906.7,1956.7 1897.7,1960.7 1897.7,1971.7"/>
<polyline points="1760,1971.7 1897.7,1971 1897.7,2050 1895,2060 1906.7,2061.7 1912.7,2065 1911.7,2073.3 1905,2075 1905,2086.7 1898.3,2088.3 1897.7,2101.7"/>
<polyline points="2020,2071.7 2051.7,2080 2051.7,2120 2023.3,2121.7 2023.3,2133.3 2010,2135 2008.3,2145 1998.3,2146.7"/>
<polyline points="2020,2075 2058.3,2070 2060,2066.7 2066.7,2070 2083.3,2086.7 2085,2091.7 2100,2093.3 2100,2113.3 2110,2123.3 2106.7,2126.7 2113.3,2133.3 2113.3,2143.3 2110,2158.3 2120,2158.3 2129.3,2161.7 2128.3,2193.3 2106.7,2195 2096.7,2198.3 2085,2197.3 2076.7,2191.7 2068.3,2191.7 2068.3,2186.7 2063.3,2186.7 2061.7,2180 2046.7,2178.3 2000,2177.3"/>
<polyline points="2228.7,2046.7 2250,2071.7 2251.7,2075 2241.7,2076.7 2241.7,2088.3 2223.3,2086.7 2220,2081.7 2210,2086.7 2210,2105 2218.3,2110 2211.7,2120 2218.3,2130 2211.7,2140 2220,2150 2211.7,2160 2220,2166.7 2218.3,2173.3 2223.3,2176.7 2223.3,2186.7 2243.3,2193.3 2263.3,2191.7 2256.7,2202"/>
<polyline points="2097.8,2199.5 2112.9,2199.7 2113.7,2203 2140.4,2203.8 2141.8,2207.1 2165.1,2206.6 2166.5,2214 2180.2,2214.8 2191.2,2229.1 2215.9,2253.8 2232.4,2274.5 2264,2260.7"/>
<polyline points="2256.6,2201.9 2264.8,2193.4 2264,2196.2 2244.8,2209.9 2247.5,2214 2262.6,2216.8 2264,2225 2273.6,2227.7 2276.4,2233.2 2265.4,2260.7 2262.6,2264.8 2266.8,2266.2 2262.6,2286.8 2265.4,2290.9 2284.6,2301.4 2270.9,2305.5 2290.1,2339 2288.7,2343.1 2298.4,2344.5"/>
<polyline points="1335,949.3 1332.3,962 1331.6,971.4 1328.8,996.2 1326.7,1000"/>
<polyline points="1230,962 1218,982 1206.7,1000"/>
<polyline points="2103.6,1474.2 2102.2,1487.9 2114,1503 2126.9,1518.1 2126.9,1530.5"/>
</g>
<polygon points="327.5,285 322.5,288.5 305,286 285,288.5 284,302.5 276,315 275,337.5 247.5,362.5 246,369 270,390 267.5,402.5 275,437.5 274,475 292.5,495 315,497.5 330,515 347.5,512.5 360,527.5 372.5,532.5 400,532.5 420,545 445,565 480,585 500,600 535,617.5 555,622.5 592.5,623.5 595,612.5 607.5,610 615,597.5 610,585 612.5,577.5 630,587.5 637.5,585 655,595 675,600 700,612.5 717.5,622.5 727.5,637.5 725,645 734,662.5 734,672.5 725,676 730,680 750,682.5 755,690 792.5,696 825,702.5 870,710 900,725 907.5,727.5 912.5,740 920,765 919,777.5 910,790 902.5,777.5 899,771 900,780 909,795 907.5,830 897.5,855 905,875 912.5,905 930,930 945,947.5 970,967.5 985,990 992.5,1012.5 992.5,1040 989,1054 1005,1055 1020,1070 1025,1080 1022.5,1107.5 1031,1130 1027.5,1157.5 1052.5,1165 1062.5,1187.5 1087.5,1227.5 1112.5,1255 1137.5,1280 1145,1297.5 1152.5,1307.5 1147.5,1330 1139,1345 1147.5,1355 1162.5,1360 1167.5,1367.5 1202.5,1360 1210,1382.5 1202.5,1407.5 1212.5,1410 1225,1430 1217.5,1440 1225,1445 1222.5,1480 1247.5,1492.5 1267.5,1515 1305,1535 1315,1532.5 1331,1537.5 1322.5,1555 1315,1545 1297.5,1552.5 1307.5,1567.5 1327.5,1580 1345,1595 1362.5,1610 1377.5,1640 1380,1655 1430,1667.5 1472.5,1682.5 1465,1690 1467.5,1700 1485,1710 1495,1722.5 1505,1740 1525,1770 1540,1792.5 1560,1807.5 1580,1822.5 1600,1830 1625,1822.5 1630,1840 1645,1850 1660,1862.5 1667.5,1845 1675,1825 1665,1820 1680,1817.5 1685,1835 1715,1840 1745,1847.5 1755,1847.5 1780,1860 1760,1867.5 1752.5,1880 1760,1897.5 1755,1915 1765,1917.5 1747.5,1930 1750,1950 1760,1972.5 1760,2000 1755,2030 1760,2042.5 1782.5,2050 1800,2047.5 1820,2065 1845,2087.5 1860,2095 1890,2102.5 1925,2110 1950,2120 1970,2127.5 1980,2145 1995,2167.5 2000,2182.5 2007.5,2212.5 2020,2232.5 2040,2247.5 2067.5,2257.5 2080,2252.5 2110,2252.5 2110,2240 2122.5,2230 2130,2237.5 2150,2242.5 2160,2260 2175,2280 2192,2292.5 2195,2297.5 2210,2325 2215,2350 2220,2370 2232.5,2352.5 2245,2367.5 2252.5,2380 2265,2382.5 2287.5,2360 2302.5,2355 2340,2347.5 2350,2335 2350,2324 2327.5,2325 2337.5,2320 2342.5,2300 2367.5,2292.5 2407.5,2289 2407.5,2275 2425,2257.5 2435,2232.5 2452.5,2217.5 2460,2192.5 2477.5,2159 2492.5,2156 2480,2152.5 2447.5,2145 2435,2130 2432.5,2095 2417.5,2087.5 2414,2067.5 2436,2040 2425,2007.5 2415,1990 2415,1962.5 2395,1952.5 2382.5,1935 2375,1910 2350,1895 2327.5,1892.5 2327.5,1872.5 2342.5,1862.5 2325,1855 2325,1830 2307.5,1817.5 2287.5,1800 2280,1770 2275,1750 2275,1712.5 2290,1717.5 2300,1710 2305,1720 2325,1722.5 2370,1717.5 2410,1707.5 2435,1695 2460,1697.5 2475,1682.5 2462.5,1660 2465,1637.5 2452.5,1620 2442.5,1592.5 2440,1565 2410,1522.5 2400,1510 2397.5,1492.5 2392.5,1440 2397.5,1425 2382.5,1415 2387.5,1395 2380,1382.5 2409,1377.5 2407.5,1360 2395,1312.5 2425,1300 2420,1285 2417.5,1255 2425,1247.5 2415,1225 2455,1220 2455,1200 2440,1200 2430,1177.5 2427.5,1150 2430,1115 2429,1050 2445,1040 2452.5,1036 2445,1029 2430,1025 2427.5,1020 2420,990 2431,973.5 2414,970 2410,945 2390,930 2360,927.5 2340,917.5 2342.5,895 2332.5,885 2317.5,879 2322.5,870 2320,835 2320,823.5 2366.5,823.5 2366.5,790 2406,790 2406,780 2385,780 2389,772.5 2380,767.5 2375,755 2352.5,747.5 2352.5,735 2364,725 2350,725 2345,717.5 2330,720 2335,712.5 2362.5,710 2380,679 1595,678 327,285" fill="none" stroke="#9A7B25" stroke-width="1.2" stroke-linejoin="round"/>
<polygon points="327.5,285 322.5,288.5 305,286 285,288.5 284,302.5 276,315 275,337.5 247.5,362.5 246,369 270,390 267.5,402.5 275,437.5 274,475 292.5,495 315,497.5 330,515 347.5,512.5 360,527.5 372.5,532.5 400,532.5 420,545 445,565 480,585 500,600 535,617.5 555,622.5 592.5,623.5 595,612.5 607.5,610 615,597.5 610,585 612.5,577.5 630,587.5 637.5,585 655,595 675,600 700,612.5 717.5,622.5 727.5,637.5 725,645 734,662.5 734,672.5 725,676 730,680 750,682.5 755,690 792.5,696 825,702.5 870,710 900,725 907.5,727.5 912.5,740 920,765 919,777.5 910,790 902.5,777.5 899,771 900,780 909,795 907.5,830 897.5,855 905,875 912.5,905 930,930 945,947.5 970,967.5 985,990 992.5,1012.5 992.5,1040 989,1054 1005,1055 1020,1070 1025,1080 1022.5,1107.5 1031,1130 1027.5,1157.5 1052.5,1165 1062.5,1187.5 1087.5,1227.5 1112.5,1255 1137.5,1280 1145,1297.5 1152.5,1307.5 1147.5,1330 1139,1345 1147.5,1355 1162.5,1360 1167.5,1367.5 1202.5,1360 1210,1382.5 1202.5,1407.5 1212.5,1410 1225,1430 1217.5,1440 1225,1445 1222.5,1480 1247.5,1492.5 1267.5,1515 1305,1535 1315,1532.5 1331,1537.5 1322.5,1555 1315,1545 1297.5,1552.5 1307.5,1567.5 1327.5,1580 1345,1595 1362.5,1610 1377.5,1640 1380,1655 1430,1667.5 1472.5,1682.5 1465,1690 1467.5,1700 1485,1710 1495,1722.5 1505,1740 1525,1770 1540,1792.5 1560,1807.5 1580,1822.5 1600,1830 1625,1822.5 1630,1840 1645,1850 1660,1862.5 1667.5,1845 1675,1825 1665,1820 1680,1817.5 1685,1835 1715,1840 1745,1847.5 1755,1847.5 1780,1860 1760,1867.5 1752.5,1880 1760,1897.5 1755,1915 1765,1917.5 1747.5,1930 1750,1950 1760,1972.5 1760,2000 1755,2030 1760,2042.5 1782.5,2050 1800,2047.5 1820,2065 1845,2087.5 1860,2095 1890,2102.5 1925,2110 1950,2120 1970,2127.5 1980,2145 1995,2167.5 2000,2182.5 2007.5,2212.5 2020,2232.5 2040,2247.5 2067.5,2257.5 2080,2252.5 2110,2252.5 2110,2240 2122.5,2230 2130,2237.5 2150,2242.5 2160,2260 2175,2280 2192,2292.5 2195,2297.5 2210,2325 2215,2350 2220,2370 2232.5,2352.5 2245,2367.5 2252.5,2380 2265,2382.5 2287.5,2360 2302.5,2355 2340,2347.5 2350,2335 2350,2324 2327.5,2325 2337.5,2320 2342.5,2300 2367.5,2292.5 2407.5,2289 2407.5,2275 2425,2257.5 2435,2232.5 2452.5,2217.5 2460,2192.5 2477.5,2159 2492.5,2156 2480,2152.5 2447.5,2145 2435,2130 2432.5,2095 2417.5,2087.5 2414,2067.5 2436,2040 2425,2007.5 2415,1990 2415,1962.5 2395,1952.5 2382.5,1935 2375,1910 2350,1895 2327.5,1892.5 2327.5,1872.5 2342.5,1862.5 2325,1855 2325,1830 2307.5,1817.5 2287.5,1800 2280,1770 2275,1750 2275,1712.5 2290,1717.5 2300,1710 2305,1720 2325,1722.5 2370,1717.5 2410,1707.5 2435,1695 2460,1697.5 2475,1682.5 2462.5,1660 2465,1637.5 2452.5,1620 2442.5,1592.5 2440,1565 2410,1522.5 2400,1510 2397.5,1492.5 2392.5,1440 2397.5,1425 2382.5,1415 2387.5,1395 2380,1382.5 2409,1377.5 2407.5,1360 2395,1312.5 2425,1300 2420,1285 2417.5,1255 2425,1247.5 2415,1225 2455,1220 2455,1200 2440,1200 2430,1177.5 2427.5,1150 2430,1115 2429,1050 2445,1040 2452.5,1036 2445,1029 2430,1025 2427.5,1020 2420,990 2431,973.5 2414,970 2410,945 2390,930 2360,927.5 2340,917.5 2342.5,895 2332.5,885 2317.5,879 2322.5,870 2320,835 2320,823.5 2366.5,823.5 2366.5,790 2406,790 2406,780 2385,780 2389,772.5 2380,767.5 2375,755 2352.5,747.5 2352.5,735 2364,725 2350,725 2345,717.5 2330,720 2335,712.5 2362.5,710 2380,679 1595,678 327,285" fill="none" stroke="#606463" stroke-width="2.2" stroke-linejoin="round" stroke-dasharray="10 2 3 2 3 2"/>
<polyline points="535,1808.5 1022.5,1808.5" fill="none" stroke="#606463" stroke-width="2" stroke-dasharray="14 3 3 3"/>
<polyline points="2492.5,2156 2467.5,2142.5 2480,2135 2525,2142.5 2532.5,2137.5 2545,2142.5 2560,2135 2575,2140 2575,2155 2560,2162.5 2562.5,2182.5 2580,2185 2595,2192.5" fill="none" stroke="#606463" stroke-width="1.8" stroke-dasharray="9 3 2 3"/>
<polyline points="2566,678 2566,525 2597,525" fill="none" stroke="#606463" stroke-width="1.6" stroke-dasharray="9 3 2 3"/>
<polyline points="2380,679 2566,679" fill="none" stroke="#606463" stroke-width="1.6" stroke-dasharray="9 3 2 3"/>
<text x="459" y="466.376" font-family="'Liberation Sans', Arial, Helvetica, sans-serif" font-size="22" font-weight="bold" fill="#000" text-anchor="middle" letter-spacing="0.35">San Luis Río Colorado</text>
<text x="1031" y="553.876" font-family="'Liberation Sans', Arial, Helvetica, sans-serif" font-size="22" font-weight="bold" fill="#000" text-anchor="middle" letter-spacing="0.35">General Plutarco Elías Calles</text>
<text x="817.5" y="619.376" font-family="'Liberation Sans', Arial, Helvetica, sans-serif" font-size="22" font-weight="bold" fill="#000" text-anchor="middle" letter-spacing="0.35">Puerto Peñasco</text>
<text x="1066.5" y="858.376" font-family="'Liberation Sans', Arial, Helvetica, sans-serif" font-size="22" font-weight="bold" fill="#000" text-anchor="middle" letter-spacing="0.35">Caborca</text>
<text x="1305" y="741.876" font-family="'Liberation Sans', Arial, Helvetica, sans-serif" font-size="22" font-weight="bold" fill="#000" text-anchor="middle" letter-spacing="0.35">Altar</text>
<text x="1454" y="697.876" font-family="'Liberation Sans', Arial, Helvetica, sans-serif" font-size="22" font-weight="bold" fill="#000" text-anchor="middle" letter-spacing="0.35">Sáric</text>
<text x="1613" y="730.876" font-family="'Liberation Sans', Arial, Helvetica, sans-serif" font-size="22" font-weight="bold" fill="#000" text-anchor="middle" letter-spacing="0.35">Nogales</text>
<text x="1771" y="737.876" font-family="'Liberation Sans', Arial, Helvetica, sans-serif" font-size="22" font-weight="bold" fill="#000" text-anchor="middle" letter-spacing="0.35">Santa Cruz</text>
<text x="1971.5" y="716.376" font-family="'Liberation Sans', Arial, Helvetica, sans-serif" font-size="22" font-weight="bold" fill="#000" text-anchor="middle" letter-spacing="0.35">Naco</text>
<text x="1866.5" y="801.376" font-family="'Liberation Sans', Arial, Helvetica, sans-serif" font-size="22" font-weight="bold" fill="#000" text-anchor="middle" letter-spacing="0.35">Cananea</text>
<text x="1506" y="833.876" font-family="'Liberation Sans', Arial, Helvetica, sans-serif" font-size="22" font-weight="bold" fill="#000" text-anchor="middle" letter-spacing="0.35">Tubutama</text>
<text x="1693.5" y="849.876" font-family="'Liberation Sans', Arial, Helvetica, sans-serif" font-size="22" font-weight="bold" fill="#000" text-anchor="middle" letter-spacing="0.35">Imuris</text>
<text x="2081.5" y="849.876" font-family="'Liberation Sans', Arial, Helvetica, sans-serif" font-size="22" font-weight="bold" fill="#000" text-anchor="middle" letter-spacing="0.35">Fronteras</text>
<text x="1377.5" y="879.376" font-family="'Liberation Sans', Arial, Helvetica, sans-serif" font-size="22" font-weight="bold" fill="#000" text-anchor="middle" letter-spacing="0.35">Oquitoa</text>
<text x="1439" y="870.376" font-family="'Liberation Sans', Arial, Helvetica, sans-serif" font-size="22" font-weight="bold" fill="#000" text-anchor="middle" letter-spacing="0.35">Atil</text>
<text x="1576" y="889.876" font-family="'Liberation Sans', Arial, Helvetica, sans-serif" font-size="22" font-weight="bold" fill="#000" text-anchor="middle" letter-spacing="0.35">Magdalena</text>
<text x="1955" y="911.376" font-family="'Liberation Sans', Arial, Helvetica, sans-serif" font-size="22" font-weight="bold" fill="#000" text-anchor="middle" letter-spacing="0.35">Bacoachi</text>
<text x="1615" y="993.376" font-family="'Liberation Sans', Arial, Helvetica, sans-serif" font-size="22" font-weight="bold" fill="#000" text-anchor="middle" letter-spacing="0.35">Santa Ana</text>
<text x="1744.5" y="1001.88" font-family="'Liberation Sans', Arial, Helvetica, sans-serif" font-size="22" font-weight="bold" fill="#000" text-anchor="middle" letter-spacing="0.35">Cucurpe</text>
<text x="1924" y="998.376" font-family="'Liberation Sans', Arial, Helvetica, sans-serif" font-size="22" font-weight="bold" fill="#000" text-anchor="middle" letter-spacing="0.35">Arizpe</text>
<text x="1398.5" y="1032.38" font-family="'Liberation Sans', Arial, Helvetica, sans-serif" font-size="22" font-weight="bold" fill="#000" text-anchor="middle" letter-spacing="0.35">Trincheras</text>
<text x="1547.5" y="1069.38" font-family="'Liberation Sans', Arial, Helvetica, sans-serif" font-size="22" font-weight="bold" fill="#000" text-anchor="middle" letter-spacing="0.35">Benjamín Hill</text>
<text x="2256.5" y="762.876" font-family="'Liberation Sans', Arial, Helvetica, sans-serif" font-size="22" font-weight="bold" fill="#000" text-anchor="middle" letter-spacing="0.35">Agua Prieta</text>
<text x="2277.5" y="916.876" font-family="'Liberation Sans', Arial, Helvetica, sans-serif" font-size="22" font-weight="bold" fill="#000" text-anchor="middle" letter-spacing="0.35">Bavispe</text>
<text x="2166.5" y="955.876" font-family="'Liberation Sans', Arial, Helvetica, sans-serif" font-size="22" font-weight="bold" fill="#000" text-anchor="middle" letter-spacing="0.35">Nacozari</text>
<text x="2346" y="1019.38" font-family="'Liberation Sans', Arial, Helvetica, sans-serif" font-size="22" font-weight="bold" fill="#000" text-anchor="middle" letter-spacing="0.35">Bacerac</text>
<text x="2179" y="1057.88" font-family="'Liberation Sans', Arial, Helvetica, sans-serif" font-size="22" font-weight="bold" fill="#000" text-anchor="middle" letter-spacing="0.35">Villa Hidalgo</text>
<text x="2323.5" y="1096.38" font-family="'Liberation Sans', Arial, Helvetica, sans-serif" font-size="22" font-weight="bold" fill="#000" text-anchor="middle" letter-spacing="0.35">Huachinera</text>
<text x="2023" y="1104.88" font-family="'Liberation Sans', Arial, Helvetica, sans-serif" font-size="22" font-weight="bold" fill="#000" text-anchor="middle" letter-spacing="0.35">Cumpas</text>
<text x="1855" y="1116.88" font-family="'Liberation Sans', Arial, Helvetica, sans-serif" font-size="22" font-weight="bold" fill="#000" text-anchor="middle" letter-spacing="0.35">Banámichi</text>
<text x="2178.5" y="1145.88" font-family="'Liberation Sans', Arial, Helvetica, sans-serif" font-size="22" font-weight="bold" fill="#000" text-anchor="middle" letter-spacing="0.35">Huásabas</text>
<text x="1874.5" y="1161.88" font-family="'Liberation Sans', Arial, Helvetica, sans-serif" font-size="22" font-weight="bold" fill="#000" text-anchor="middle" letter-spacing="0.35">Huépac</text>
<text x="2261" y="1189.88" font-family="'Liberation Sans', Arial, Helvetica, sans-serif" font-size="22" font-weight="bold" fill="#000" text-anchor="middle" letter-spacing="0.35">Bacadéhuachi</text>
<text x="1871.5" y="1206.88" font-family="'Liberation Sans', Arial, Helvetica, sans-serif" font-size="22" font-weight="bold" fill="#000" text-anchor="middle" letter-spacing="0.35">Aconchi</text>
<text x="2189" y="1218.88" font-family="'Liberation Sans', Arial, Helvetica, sans-serif" font-size="22" font-weight="bold" fill="#000" text-anchor="middle" letter-spacing="0.35">Granados</text>
<text x="1769" y="1223.88" font-family="'Liberation Sans', Arial, Helvetica, sans-serif" font-size="22" font-weight="bold" fill="#000" text-anchor="middle" letter-spacing="0.35">Rayón</text>
<text x="2051" y="1233.88" font-family="'Liberation Sans', Arial, Helvetica, sans-serif" font-size="22" font-weight="bold" fill="#000" text-anchor="middle" letter-spacing="0.35">Moctezuma</text>
<text x="1915" y="1265.38" font-family="'Liberation Sans', Arial, Helvetica, sans-serif" font-size="22" font-weight="bold" fill="#000" text-anchor="middle" letter-spacing="0.35">Baviácora</text>
<text x="2170" y="1267.88" font-family="'Liberation Sans', Arial, Helvetica, sans-serif" font-size="22" font-weight="bold" fill="#000" text-anchor="middle" letter-spacing="0.35">Divisaderos</text>
<text x="2330" y="1266.88" font-family="'Liberation Sans', Arial, Helvetica, sans-serif" font-size="22" font-weight="bold" fill="#000" text-anchor="middle" letter-spacing="0.35">Nácori Chico</text>
<text x="2115.5" y="1309.88" font-family="'Liberation Sans', Arial, Helvetica, sans-serif" font-size="22" font-weight="bold" fill="#000" text-anchor="middle" letter-spacing="0.35">Tepache</text>
<text x="1855.5" y="1361.38" font-family="'Liberation Sans', Arial, Helvetica, sans-serif" font-size="22" font-weight="bold" fill="#000" text-anchor="middle" letter-spacing="0.35">Ures</text>
<text x="2069.5" y="1398.88" font-family="'Liberation Sans', Arial, Helvetica, sans-serif" font-size="22" font-weight="bold" fill="#000" text-anchor="middle" letter-spacing="0.35">San Pedro de la Cueva</text>
<text x="2294.5" y="1418.88" font-family="'Liberation Sans', Arial, Helvetica, sans-serif" font-size="22" font-weight="bold" fill="#000" text-anchor="middle" letter-spacing="0.35">Sahuaripa</text>
<text x="1956.5" y="1447.88" font-family="'Liberation Sans', Arial, Helvetica, sans-serif" font-size="22" font-weight="bold" fill="#000" text-anchor="middle" letter-spacing="0.35">Villa Pesqueira</text>
<text x="1906.5" y="1489.88" font-family="'Liberation Sans', Arial, Helvetica, sans-serif" font-size="22" font-weight="bold" fill="#000" text-anchor="middle" letter-spacing="0.35">Mazatán</text>
<text x="2161.5" y="1512.88" font-family="'Liberation Sans', Arial, Helvetica, sans-serif" font-size="22" font-weight="bold" fill="#000" text-anchor="middle" letter-spacing="0.35">Bacanora</text>
<text x="2264" y="1511.88" font-family="'Liberation Sans', Arial, Helvetica, sans-serif" font-size="22" font-weight="bold" fill="#000" text-anchor="middle" letter-spacing="0.35">Arivechi</text>
<text x="2088.5" y="1552.88" font-family="'Liberation Sans', Arial, Helvetica, sans-serif" font-size="22" font-weight="bold" fill="#000" text-anchor="middle" letter-spacing="0.35">Soyopa</text>
<text x="1840.5" y="1571.88" font-family="'Liberation Sans', Arial, Helvetica, sans-serif" font-size="22" font-weight="bold" fill="#000" text-anchor="middle" letter-spacing="0.35">La Colorada</text>
<text x="2039.5" y="1607.88" font-family="'Liberation Sans', Arial, Helvetica, sans-serif" font-size="22" font-weight="bold" fill="#000" text-anchor="middle" letter-spacing="0.35">San Javier</text>
<text x="2127.5" y="1660.88" font-family="'Liberation Sans', Arial, Helvetica, sans-serif" font-size="22" font-weight="bold" fill="#000" text-anchor="middle" letter-spacing="0.35">Ónavas</text>
<text x="2321.5" y="1674.88" font-family="'Liberation Sans', Arial, Helvetica, sans-serif" font-size="22" font-weight="bold" fill="#000" text-anchor="middle" letter-spacing="0.35">Yécora</text>
<text x="1986" y="1682.88" font-family="'Liberation Sans', Arial, Helvetica, sans-serif" font-size="22" font-weight="bold" fill="#000" text-anchor="middle" letter-spacing="0.35">Suaqui Grande</text>
<text x="1211" y="1154.38" font-family="'Liberation Sans', Arial, Helvetica, sans-serif" font-size="22" font-weight="bold" fill="#000" text-anchor="middle" letter-spacing="0.35">Pitiquito</text>
<text x="1660" y="1127.88" font-family="'Liberation Sans', Arial, Helvetica, sans-serif" font-size="22" font-weight="bold" fill="#000" text-anchor="middle" letter-spacing="0.35">Opodepe</text>
<text x="1723.5" y="1179.88" font-family="'Liberation Sans', Arial, Helvetica, sans-serif" font-size="22" font-weight="bold" fill="#000" text-anchor="middle" letter-spacing="0.35">San Felipe de Jesús</text>
<text x="1585" y="1248.88" font-family="'Liberation Sans', Arial, Helvetica, sans-serif" font-size="22" font-weight="bold" fill="#000" text-anchor="middle" letter-spacing="0.35">Carbó</text>
<text x="1688" y="1319.88" font-family="'Liberation Sans', Arial, Helvetica, sans-serif" font-size="22" font-weight="bold" fill="#000" text-anchor="middle" letter-spacing="0.35">San Miguel de Horcasitas</text>
<text x="1495.5" y="1466.88" font-family="'Liberation Sans', Arial, Helvetica, sans-serif" font-size="22" font-weight="bold" fill="#000" text-anchor="middle" letter-spacing="0.35">Hermosillo</text>
<text x="1161" y="1480.88" font-family="'Liberation Sans', Arial, Helvetica, sans-serif" font-size="22" font-weight="bold" fill="#000" text-anchor="middle" letter-spacing="0.35">Hermosillo</text>
<text x="1745" y="1711.88" font-family="'Liberation Sans', Arial, Helvetica, sans-serif" font-size="22" font-weight="bold" fill="#000" text-anchor="middle" letter-spacing="0.35">Guaymas</text>
<text x="1734" y="1812.88" font-family="'Liberation Sans', Arial, Helvetica, sans-serif" font-size="22" font-weight="bold" fill="#000" text-anchor="middle" letter-spacing="0.35">Empalme</text>
<text x="1904" y="1862.88" font-family="'Liberation Sans', Arial, Helvetica, sans-serif" font-size="22" font-weight="bold" fill="#000" text-anchor="middle" letter-spacing="0.35">Bácum</text>
<text x="1984" y="1885.38" font-family="'Liberation Sans', Arial, Helvetica, sans-serif" font-size="22" font-weight="bold" fill="#000" text-anchor="middle" letter-spacing="0.35">Cajeme</text>
<text x="1846.5" y="2032.88" font-family="'Liberation Sans', Arial, Helvetica, sans-serif" font-size="22" font-weight="bold" fill="#000" text-anchor="middle" letter-spacing="0.35">San Ignacio Río Muerto</text>
<text x="2196" y="1811.88" font-family="'Liberation Sans', Arial, Helvetica, sans-serif" font-size="22" font-weight="bold" fill="#000" text-anchor="middle" letter-spacing="0.35">Rosario</text>
<text x="2169" y="1964.88" font-family="'Liberation Sans', Arial, Helvetica, sans-serif" font-size="22" font-weight="bold" fill="#000" text-anchor="middle" letter-spacing="0.35">Quiriego</text>
<text x="2009" y="2116.88" font-family="'Liberation Sans', Arial, Helvetica, sans-serif" font-size="22" font-weight="bold" fill="#000" text-anchor="middle" letter-spacing="0.35">Benito Juárez</text>
<text x="2160" y="2118.88" font-family="'Liberation Sans', Arial, Helvetica, sans-serif" font-size="22" font-weight="bold" fill="#000" text-anchor="middle" letter-spacing="0.35">Navojoa</text>
<text x="2058.5" y="2158.88" font-family="'Liberation Sans', Arial, Helvetica, sans-serif" font-size="22" font-weight="bold" fill="#000" text-anchor="middle" letter-spacing="0.35">Etchojoa</text>
<text x="2324" y="2137.88" font-family="'Liberation Sans', Arial, Helvetica, sans-serif" font-size="22" font-weight="bold" fill="#000" text-anchor="middle" letter-spacing="0.35">Álamos</text>
<text x="2187.5" y="2270.38" font-family="'Liberation Sans', Arial, Helvetica, sans-serif" font-size="22" font-weight="bold" fill="#000" text-anchor="middle" letter-spacing="0.35">Huatabampo</text>
<text x="1740" y="409.036" font-family="'Liberation Sans', Arial, Helvetica, sans-serif" font-size="42" font-weight="bold" fill="#fff" text-anchor="middle" textLength="545" lengthAdjust="spacing">Estados Unidos de América</text>
<text x="306" y="1177.25" font-family="'Liberation Sans', Arial, Helvetica, sans-serif" font-size="37" font-weight="normal" fill="#666666" text-anchor="middle" >Baja</text>
<text x="306" y="1219.75" font-family="'Liberation Sans', Arial, Helvetica, sans-serif" font-size="37" font-weight="normal" fill="#666666" text-anchor="middle" >California</text>
<text x="920" y="1988.25" font-family="'Liberation Sans', Arial, Helvetica, sans-serif" font-size="37" font-weight="normal" fill="#666666" text-anchor="middle" >Baja</text>
<text x="920" y="2030.75" font-family="'Liberation Sans', Arial, Helvetica, sans-serif" font-size="37" font-weight="normal" fill="#666666" text-anchor="middle" >California</text>
<text x="920" y="2073.25" font-family="'Liberation Sans', Arial, Helvetica, sans-serif" font-size="37" font-weight="normal" fill="#666666" text-anchor="middle" >Sur</text>
<text x="2432.5" y="1804.35" font-family="'Liberation Sans', Arial, Helvetica, sans-serif" font-size="37.3" font-weight="normal" fill="#666666" text-anchor="middle" >Chihuahua</text>
<text x="2472.5" y="2394.35" font-family="'Liberation Sans', Arial, Helvetica, sans-serif" font-size="37.3" font-weight="normal" fill="#666666" text-anchor="middle" >Sinaloa</text>
<text x="164" y="1594" font-family="'Liberation Sans', Arial, Helvetica, sans-serif" font-size="37" font-weight="normal" fill="#0A5BD3" text-anchor="start" font-style="italic" textLength="304" lengthAdjust="spacing">Océano</text>
<text x="161" y="1637.5" font-family="'Liberation Sans', Arial, Helvetica, sans-serif" font-size="37" font-weight="normal" fill="#0A5BD3" text-anchor="start" font-style="italic" textLength="373" lengthAdjust="spacing">Pacífico</text>
<g transform="translate(1196,1696) rotate(49.4)">
<text x="0" y="0" font-family="'Liberation Sans', Arial, Helvetica, sans-serif" font-size="31" font-weight="normal" fill="#0A5BD3" text-anchor="start" textLength="397" lengthAdjust="spacing">Golfo de California</text>
</g>
<g transform="translate(1203,1752) rotate(49.4)">
<text x="0" y="0" font-family="'Liberation Sans', Arial, Helvetica, sans-serif" font-size="31" font-weight="normal" fill="#0A5BD3" text-anchor="start" textLength="325" lengthAdjust="spacing">(Mar de Cortés)</text>
</g>
<text x="1037" y="1371.34" font-family="'Liberation Sans', Arial, Helvetica, sans-serif" font-size="20.5" font-weight="normal" fill="#000" text-anchor="middle" >Isla Tiburón</text>
<text x="1037" y="1395.34" font-family="'Liberation Sans', Arial, Helvetica, sans-serif" font-size="20.5" font-weight="normal" fill="#000" text-anchor="middle" >(Mun. de Hermosillo)</text>
<text x="1113" y="1597.94" font-family="'Liberation Sans', Arial, Helvetica, sans-serif" font-size="12.4" font-weight="normal" fill="#000" text-anchor="middle" >Isla San Esteban</text>
<text x="1113" y="1611.94" font-family="'Liberation Sans', Arial, Helvetica, sans-serif" font-size="12.4" font-weight="normal" fill="#000" text-anchor="middle" >(Mun. de Hermosillo)</text>
<path d="M182,2389 V2378 H426 V2389 M243,2378 V2385 M304,2378 V2385 M365,2378 V2385" fill="none" stroke="#000" stroke-width="3.4"/>
<text x="182" y="2408.23" font-family="'Liberation Sans', Arial, Helvetica, sans-serif" font-size="16" font-weight="normal" fill="#000" text-anchor="middle" >0</text>
<text x="243" y="2408.23" font-family="'Liberation Sans', Arial, Helvetica, sans-serif" font-size="16" font-weight="normal" fill="#000" text-anchor="middle" >20</text>
<text x="304" y="2408.23" font-family="'Liberation Sans', Arial, Helvetica, sans-serif" font-size="16" font-weight="normal" fill="#000" text-anchor="middle" >40</text>
<text x="365" y="2408.23" font-family="'Liberation Sans', Arial, Helvetica, sans-serif" font-size="16" font-weight="normal" fill="#000" text-anchor="middle" >60</text>
<text x="426" y="2408.23" font-family="'Liberation Sans', Arial, Helvetica, sans-serif" font-size="16" font-weight="normal" fill="#000" text-anchor="middle" >80</text>
<text x="442.5" y="2408" font-family="'Liberation Sans', Arial, Helvetica, sans-serif" font-size="16" font-weight="normal" fill="#000" text-anchor="start" >kilómetros</text>
<polygon points="2510.2,339.7 2520,329.9 2510.2,292.2" fill="none" stroke="#000" stroke-width="1.3" stroke-linejoin="miter"/>
<polygon points="2510.2,339.7 2500.4,329.9 2510.2,292.2" fill="#000" stroke="#000" stroke-width="1.3" stroke-linejoin="miter"/>
<polygon points="2510.2,339.7 2520,349.5 2557.7,339.7" fill="none" stroke="#000" stroke-width="1.3" stroke-linejoin="miter"/>
<polygon points="2510.2,339.7 2520,329.9 2557.7,339.7" fill="#000" stroke="#000" stroke-width="1.3" stroke-linejoin="miter"/>
<polygon points="2510.2,339.7 2500.4,349.5 2510.2,387.1" fill="none" stroke="#000" stroke-width="1.3" stroke-linejoin="miter"/>
<polygon points="2510.2,339.7 2520,349.5 2510.2,387.1" fill="#000" stroke="#000" stroke-width="1.3" stroke-linejoin="miter"/>
<polygon points="2510.2,339.7 2500.4,329.9 2463.8,339.7" fill="none" stroke="#000" stroke-width="1.3" stroke-linejoin="miter"/>
<polygon points="2510.2,339.7 2500.4,349.5 2463.8,339.7" fill="#000" stroke="#000" stroke-width="1.3" stroke-linejoin="miter"/>
<text x="2509.2" y="286.94" font-family="'Liberation Sans', Arial, Helvetica, sans-serif" font-size="30" font-weight="normal" fill="#000" text-anchor="middle" >N</text>
<text x="2509.8" y="415.34" font-family="'Liberation Sans', Arial, Helvetica, sans-serif" font-size="30" font-weight="normal" fill="#000" text-anchor="middle" >S</text>
<text x="2438.3" y="351.23" font-family="'Liberation Sans', Arial, Helvetica, sans-serif" font-size="35" font-weight="normal" fill="#000" text-anchor="middle" >O</text>
<text x="2571.3" y="349.94" font-family="'Liberation Sans', Arial, Helvetica, sans-serif" font-size="30" font-weight="normal" fill="#000" text-anchor="middle" >E</text>
</g>
<rect x="118" y="247" width="3072" height="2186" fill="none" stroke="#000" stroke-width="4"/>
<rect x="2597" y="247" width="4" height="2186" fill="#000"/>
<text x="130.5" y="2472.5" font-family="'Liberation Sans', Arial, Helvetica, sans-serif" font-size="23.5" font-weight="bold" fill="#000" text-anchor="start" textLength="1986" lengthAdjust="spacing">Fuente: Unidad de Política Migratoria, Registro e Identidad de Personas, SEGOB, con base en el Boletín Mensual de Estadísticas Migratorias, Mujeres y Hombres, 2024.</text>
<g id="panel">
<rect x="2635" y="282.5" width="520" height="449.5" fill="#CCEBF9" stroke="#000" stroke-width="4"/>
<g clip-path="url(#insetclip)">
<polygon points="2630.0,280.0 3160.0,280.0 3160.0,384.9 3153.2,384.9 3139.5,382.2 3125.9,383.5 3115.0,379.5 3105.5,384.9 3093.2,384.9 3089.1,394.4 3098.7,402.6 3093.2,405.9 3082.3,399.9 3071.4,402.6 3057.8,397.2 3046.9,393.1 3033.3,394.4 3016.9,394.4 3003.3,399.9 2986.9,409.4 2973.3,416.2 2963.8,424.4 2958.3,435.3 2961.1,446.2 2966.5,455.7 2957.0,453.0 2943.4,448.9 2932.5,440.8 2924.3,428.5 2916.1,428.5 2907.9,413.5 2899.8,397.2 2888.9,393.1 2878.0,394.4 2869.8,405.3 2858.9,401.3 2845.3,391.7 2839.8,380.8 2826.2,372.6 2815.3,361.7 2786.7,361.2 2786.7,367.2 2777.1,368.6 2736.3,367.2 2677.7,350.3 2680.4,345.9 2643.6,348.7 2636.8,337.2 2630.0,331.8" fill="#CCCCCC" stroke="#999" stroke-width="1.6"/>
<polygon points="3045.5,639.7 3052.3,617.9 3075.5,611.1 3063.2,596.1 3066.0,587.9 3094.6,587.9 3104.1,579.7 3115.0,578.4 3113.7,593.4 3106.8,607.0 3104.1,617.9 3120.5,620.6 3136.8,617.9 3160.0,616.5 3160.0,705.1 3153.2,698.3 3142.3,688.7 3128.6,675.1 3120.5,664.2 3106.8,661.5 3087.8,656.0 3071.4,650.6 3055.1,646.5" fill="#CCCCCC" stroke="#999" stroke-width="1.6"/>
<polyline points="3094.6,587.9 3095.9,617.9 3104.1,617.9" fill="none" stroke="#999" stroke-width="1.4"/>
<polyline points="3104.1,617.9 3093.2,634.2 3090.5,642.4 3079.6,650.6" fill="none" stroke="#999" stroke-width="1.4"/>
<polyline points="3090.5,642.4 3117.7,657.4 3120.5,664.2" fill="none" stroke="#999" stroke-width="1.4"/>
<polyline points="3120.5,664.2 3128.6,666.9 3136.8,653.3 3160.0,649.2" fill="none" stroke="#999" stroke-width="1.4"/>
<polygon points="2677.7,350.3 2736.3,367.2 2777.1,368.6 2786.7,367.2 2786.7,361.2 2815.3,361.7 2826.2,372.6 2839.8,380.8 2845.3,391.7 2858.9,401.3 2869.8,405.3 2878.0,394.4 2888.9,393.1 2899.8,397.2 2907.9,413.5 2916.1,428.5 2924.3,428.5 2932.5,440.8 2943.4,448.9 2957.0,453.0 2966.5,455.7 2959.7,468.0 2955.6,481.6 2955.6,498.0 2954.3,514.3 2959.7,526.6 2966.5,538.9 2974.7,552.5 2984.2,568.8 2995.1,575.6 3007.4,582.5 3022.4,579.7 3038.7,574.3 3052.3,574.3 3063.2,568.8 3071.4,560.7 3074.1,549.8 3075.5,536.1 3090.5,530.7 3109.6,526.6 3128.6,526.6 3135.4,532.0 3131.4,544.3 3123.2,555.2 3119.1,568.8 3115.0,578.4 3104.1,579.7 3094.6,587.9 3066.0,587.9 3063.2,596.1 3075.5,611.1 3052.3,617.9 3045.5,639.7 3033.3,627.4 3015.6,613.8 3003.3,611.1 2993.8,616.5 2977.4,622.0 2957.0,616.5 2943.4,609.7 2924.3,601.5 2905.2,593.4 2886.1,585.2 2867.1,581.1 2856.2,570.2 2841.2,563.4 2830.3,552.5 2827.5,544.3 2833.0,534.8 2830.3,519.8 2831.6,508.9 2823.5,495.3 2812.6,484.4 2801.7,477.5 2790.8,473.5 2777.1,463.9 2767.6,459.8 2766.2,454.4 2771.7,448.9 2760.8,443.5 2749.9,434.0 2747.2,424.4 2736.3,421.7 2722.6,408.1 2715.8,409.4 2717.2,402.6 2721.3,402.6 2711.7,389.0 2706.3,372.6 2695.4,365.8 2684.5,363.1 2677.7,359.0 2676.3,352.2" fill="#fff" stroke="#777" stroke-width="1" stroke-linejoin="round"/>
<polygon points="2643.6,348.7 2680.4,345.9 2677.7,350.3 2676.9,359.0 2679.0,364.5 2681.8,386.3 2688.6,397.2 2698.1,408.1 2709.0,420.3 2719.9,432.6 2729.5,443.5 2737.6,457.1 2744.4,468.0 2749.9,481.6 2758.1,483.0 2766.2,496.6 2760.8,504.8 2756.7,504.8 2751.3,495.3 2741.7,487.1 2730.8,481.6 2721.3,476.2 2722.6,465.3 2714.5,454.4 2704.9,443.5 2695.4,440.8 2684.5,435.3 2676.3,427.1 2688.6,423.1 2684.5,416.2 2675.0,405.3 2665.4,391.7 2662.7,380.8 2654.5,367.2 2647.7,357.7" fill="#fff" stroke="#777" stroke-width="1" stroke-linejoin="round"/>
<g fill="none" stroke="#777" stroke-width="0.8" stroke-linejoin="round">
<polyline points="2807.1,461.2 2818.0,443.5 2828.9,442.1 2845.3,447.6 2850.7,442.1 2864.3,443.5 2867.1,454.4 2863.0,465.3 2869.8,472.1 2879.3,470.7"/>
<polyline points="2864.3,443.5 2858.9,432.6 2856.2,421.7 2861.6,410.8 2869.8,405.3"/>
<polyline points="2781.2,438.0 2790.8,451.7 2803.0,454.4 2807.1,461.2 2804.4,470.7 2815.3,481.6 2820.7,483.0 2826.2,495.3 2831.6,506.2"/>
<polyline points="2916.1,428.5 2907.9,435.3 2909.3,446.2 2901.1,450.3 2907.9,462.6 2916.1,468.0 2907.9,470.7 2907.9,478.9"/>
<polyline points="2924.3,428.5 2927.0,440.8 2932.5,451.7 2943.4,459.8 2942.0,466.6 2929.7,473.5 2925.6,481.6 2927.0,489.8 2920.2,492.5 2918.8,506.2 2933.8,513.0 2947.4,513.0 2954.3,514.3"/>
<polyline points="2879.3,470.7 2878.0,480.3 2863.0,483.0 2857.5,489.8 2856.2,500.7 2852.1,506.2 2853.4,514.3 2858.9,522.5"/>
<polyline points="2879.3,470.7 2888.9,470.7 2902.5,478.9 2907.9,478.9 2913.4,498.0 2918.8,506.2"/>
<polyline points="2902.5,478.9 2899.8,489.8 2883.4,498.0 2884.8,508.9 2895.7,514.3 2897.0,521.1 2890.2,522.5"/>
<polyline points="2831.6,506.2 2839.8,511.6 2848.0,517.1 2852.1,525.2 2858.9,532.0 2861.6,525.2 2869.8,517.1 2858.9,522.5"/>
<polyline points="2833.0,534.8 2842.5,537.5 2850.7,542.9 2852.1,533.4 2858.9,532.0"/>
<polyline points="2850.7,542.9 2861.6,552.5 2869.8,551.1 2873.9,557.9 2876.6,563.4 2871.1,567.5 2863.0,570.2 2861.6,562.0 2854.8,562.0 2848.0,566.1"/>
<polyline points="2869.8,551.1 2878.0,548.4 2887.5,547.0 2898.4,552.5 2910.7,552.5 2916.1,557.9 2913.4,568.8 2907.9,572.9 2910.7,578.4 2891.6,575.6 2886.1,583.8"/>
<polyline points="2869.8,517.1 2878.0,514.3 2886.1,519.8 2890.2,522.5 2895.7,525.2 2905.2,526.6 2916.1,525.2 2921.6,530.7 2929.7,528.0 2943.4,530.7 2946.1,522.5 2947.4,513.0"/>
<polyline points="2895.7,525.2 2891.6,536.1 2887.5,547.0"/>
<polyline points="2921.6,530.7 2910.7,537.5 2913.4,545.7 2922.9,549.8 2929.7,541.6 2931.1,533.4"/>
<polyline points="2910.7,578.4 2927.0,575.6 2935.2,579.7 2943.4,586.5 2947.4,598.8 2948.8,605.6 2946.1,611.1"/>
<polyline points="2943.4,530.7 2948.8,538.9 2957.0,541.6 2961.1,552.5 2965.1,563.4 2959.7,572.9 2954.3,579.7 2943.4,586.5"/>
<polyline points="2959.7,572.9 2973.3,575.6 2984.2,582.5 2989.7,592.0 3003.3,597.4 3022.4,597.4 3022.4,590.6 3015.6,582.5"/>
<polyline points="3022.4,597.4 3016.9,607.0 3015.6,613.8"/>
<polyline points="3022.4,590.6 3029.2,585.2 3036.0,593.4 3049.6,585.2 3055.1,583.8 3063.2,596.1"/>
<polyline points="3038.7,574.3 3044.2,579.7 3055.1,583.8 3056.4,587.9 3066.0,587.9"/>
<polyline points="3075.5,536.1 3082.3,545.7 3093.2,557.9 3104.1,549.8 3117.7,542.9 3123.2,533.4 3122.6,526.6"/>
<polyline points="3093.2,557.9 3094.6,587.9"/>
<polyline points="2688.6,422.2 2711.7,422.2"/>
<polyline points="2922.9,549.8 2918.8,563.4 2913.4,568.8"/>
<polyline points="2931.1,533.4 2937.9,541.6 2946.1,536.1 2948.8,538.9"/>
<polyline points="2929.7,555.2 2935.2,552.5 2940.6,560.7 2935.2,568.8 2929.7,566.1 2929.7,555.2"/>
<polyline points="2943.4,557.9 2951.5,556.6 2957.0,563.4 2948.8,566.1 2943.4,557.9"/>
<polyline points="2873.9,519.8 2879.3,515.7 2886.1,519.8 2880.7,525.2 2873.9,519.8"/>
</g>
<polygon points="2677.7,350.3 2736.3,367.2 2777.1,368.6 2775.8,375.4 2778.5,383.5 2781.2,389.0 2779.3,402.6 2781.2,416.2 2774.4,421.7 2778.5,431.2 2781.2,438.0 2779.9,443.5 2771.7,448.4 2760.8,443.5 2749.9,434.0 2747.2,424.4 2736.3,421.7 2722.6,408.1 2715.8,409.4 2717.2,402.6 2721.3,402.6 2711.7,389.0 2706.3,372.6 2695.4,365.8 2684.5,363.1 2677.7,359.0 2676.3,352.2" fill="#000"/>
</g>
<rect x="2635" y="282.5" width="520" height="449.5" fill="none" stroke="#000" stroke-width="4"/>
<text x="2872.5" y="322.386" font-family="'Liberation Sans', Arial, Helvetica, sans-serif" font-size="33.2" font-weight="normal" fill="#000" text-anchor="middle" >Ubicación estatal</text>
<text x="2697.5" y="788" font-family="'Liberation Sans', Arial, Helvetica, sans-serif" font-size="29.5" font-weight="bold" fill="#000" text-anchor="start" textLength="262" lengthAdjust="spacing">Simbología</text>
<rect x="2632" y="814" width="94" height="38" fill="#CCCCCC" stroke="#999" stroke-width="1.6"/>
<line x1="2630" y1="873.5" x2="2731" y2="873.5" stroke="#555" stroke-width="1.8" stroke-dasharray="17 4 3 4 3 4"/>
<line x1="2630" y1="910.5" x2="2731" y2="910.5" stroke="#A67C2A" stroke-width="1.8"/>
<text x="2770.5" y="842.5" font-family="'Liberation Sans', Arial, Helvetica, sans-serif" font-size="29" font-weight="normal" fill="#000" text-anchor="start" >Territorio extranjero</text>
<text x="2770.5" y="879.5" font-family="'Liberation Sans', Arial, Helvetica, sans-serif" font-size="29" font-weight="normal" fill="#000" text-anchor="start" >Límite estatal</text>
<text x="2770.5" y="915.5" font-family="'Liberation Sans', Arial, Helvetica, sans-serif" font-size="29" font-weight="normal" fill="#000" text-anchor="start" >Límite municipal</text>
<text x="2770.5" y="949.5" font-family="'Liberation Sans', Arial, Helvetica, sans-serif" font-size="29" font-weight="normal" fill="#000" text-anchor="start" letter-spacing="0.25">(72 municipios a 2024)</text>
<text x="2629.5" y="1022.5" font-family="'Liberation Sans', Arial, Helvetica, sans-serif" font-size="34.5" font-weight="bold" fill="#000" text-anchor="start" textLength="508" lengthAdjust="spacingAndGlyphs">Porcentaje estatal de eventos</text>
<pattern id="hatch2" patternUnits="userSpaceOnUse" width="20.86" height="20.86" patternTransform="rotate(45)"><rect width="20.86" height="20.86" fill="#fff"/><line x1="9.9" y1="-1" x2="9.9" y2="22" stroke="#A3A3A3" stroke-width="2.6"/></pattern>
<rect x="2618" y="1059.5" width="80.5" height="40" fill="url(#hatch2)" stroke="#A6843A" stroke-width="1.1"/>
<rect x="2905.5" y="1059.5" width="80.5" height="40" fill="#FFAA00" stroke="#A6843A" stroke-width="1.1"/>
<rect x="2618" y="1113.5" width="80.5" height="40" fill="#E8FFBE" stroke="#A6843A" stroke-width="1.1"/>
<rect x="2905.5" y="1113.5" width="80.5" height="40" fill="#FF5500" stroke="#A6843A" stroke-width="1.1"/>
<rect x="2618" y="1168.5" width="80.5" height="40" fill="#98E600" stroke="#A6843A" stroke-width="1.1"/>
<rect x="2905.5" y="1168.5" width="80.5" height="40" fill="#E60000" stroke="#A6843A" stroke-width="1.1"/>
<rect x="2618" y="1222.5" width="80.5" height="40" fill="#FFFF00" stroke="#A6843A" stroke-width="1.1"/>
<rect x="2905.5" y="1222.5" width="80.5" height="40" fill="#730000" stroke="#A6843A" stroke-width="1.1"/>
<text x="2712" y="1090" font-family="'Liberation Sans', Arial, Helvetica, sans-serif" font-size="28" font-weight="normal" fill="#000" text-anchor="start" letter-spacing="0.25">Sin registro</text>
<text x="2730" y="1144" font-family="'Liberation Sans', Arial, Helvetica, sans-serif" font-size="28" font-weight="normal" fill="#000" text-anchor="start" textLength="144.5" lengthAdjust="spacing">0.01  - 4.99</text>
<text x="2730" y="1199" font-family="'Liberation Sans', Arial, Helvetica, sans-serif" font-size="28" font-weight="normal" fill="#000" text-anchor="start" textLength="143.5" lengthAdjust="spacing">5.00  - 9.99</text>
<text x="2712" y="1253" font-family="'Liberation Sans', Arial, Helvetica, sans-serif" font-size="28" font-weight="normal" fill="#000" text-anchor="start" textLength="160.5" lengthAdjust="spacing">10.00 -19.99</text>
<text x="2999" y="1090" font-family="'Liberation Sans', Arial, Helvetica, sans-serif" font-size="28" font-weight="normal" fill="#000" text-anchor="start" textLength="169" lengthAdjust="spacing">20.00 - 29.99</text>
<text x="2999" y="1144" font-family="'Liberation Sans', Arial, Helvetica, sans-serif" font-size="28" font-weight="normal" fill="#000" text-anchor="start" textLength="169" lengthAdjust="spacing">30.00 - 49.99</text>
<text x="2999" y="1199" font-family="'Liberation Sans', Arial, Helvetica, sans-serif" font-size="28" font-weight="normal" fill="#000" text-anchor="start" textLength="169" lengthAdjust="spacing">50.00 - 69.99</text>
<text x="3171.5" y="1253" font-family="'Liberation Sans', Arial, Helvetica, sans-serif" font-size="28" font-weight="normal" fill="#000" text-anchor="end" >&gt; 70.00</text>
<text x="2884.5" y="1332.95" font-family="'Liberation Sans', Arial, Helvetica, sans-serif" font-size="25" font-weight="bold" fill="#000" text-anchor="middle" letter-spacing="0.3">Eventos de devolución</text>
<text x="2706" y="1366" font-family="'Liberation Sans', Arial, Helvetica, sans-serif" font-size="25.5" font-weight="bold" fill="#000" text-anchor="start" >Total estatal</text>
<text x="3122" y="1366" font-family="'Liberation Sans', Arial, Helvetica, sans-serif" font-size="25.5" font-weight="bold" fill="#000" text-anchor="end" >5 567</text>
<text x="2706" y="1395.5" font-family="'Liberation Sans', Arial, Helvetica, sans-serif" font-size="25.5" font-weight="normal" fill="#000" text-anchor="start" >Total hombres</text>
<text x="3122" y="1395.5" font-family="'Liberation Sans', Arial, Helvetica, sans-serif" font-size="25.5" font-weight="normal" fill="#000" text-anchor="end" >4 665</text>
<text x="2706" y="1424.5" font-family="'Liberation Sans', Arial, Helvetica, sans-serif" font-size="25.5" font-weight="normal" fill="#000" text-anchor="start" >Total mujeres</text>
<text x="3125.5" y="1424.5" font-family="'Liberation Sans', Arial, Helvetica, sans-serif" font-size="25.5" font-weight="normal" fill="#000" text-anchor="end" >902</text>
<rect x="2853" y="1364.5" width="207" height="2.2" fill="#000"/>
<rect x="2864" y="1394" width="196" height="1.5" fill="#000"/>
<rect x="2855" y="1423" width="231" height="1.5" fill="#000"/>
<text x="2604" y="1496.5" font-family="'Liberation Sans', Arial, Helvetica, sans-serif" font-size="29.5" font-weight="bold" fill="#000" text-anchor="start" textLength="579" lengthAdjust="spacingAndGlyphs">Municipios con mayor número de eventos</text>
<rect x="2730" y="1514" width="28" height="21" fill="#B9669A"/>
<rect x="2897" y="1514" width="28" height="22" fill="#2E75B6"/>
<text x="2766" y="1540" font-family="'Liberation Sans', Arial, Helvetica, sans-serif" font-size="28" font-weight="normal" fill="#000" text-anchor="start" >Mujeres</text>
<text x="2932" y="1540" font-family="'Liberation Sans', Arial, Helvetica, sans-serif" font-size="28" font-weight="normal" fill="#000" text-anchor="start" >Hombres</text>
<path d="M2628.5,2160 V1571 H3158.5" fill="none" stroke="#D9D9D9" stroke-width="1.3"/>
<line x1="2676" y1="2086.5" x2="3150.5" y2="2086.5" stroke="#D9D9D9" stroke-width="1.3"/>
<text transform="translate(2663.5,2092) scale(0.72,1)" font-family="'Liberation Sans', Arial, Helvetica, sans-serif" font-size="16.5" fill="#595959" stroke="#595959" stroke-width="0" text-anchor="end">0</text>
<line x1="2676" y1="1986.95" x2="3150.5" y2="1986.95" stroke="#D9D9D9" stroke-width="1.3"/>
<text transform="translate(2663.5,1992.45) scale(0.72,1)" font-family="'Liberation Sans', Arial, Helvetica, sans-serif" font-size="16.5" fill="#595959" stroke="#595959" stroke-width="0" text-anchor="end">300</text>
<line x1="2676" y1="1887.4" x2="3150.5" y2="1887.4" stroke="#D9D9D9" stroke-width="1.3"/>
<text transform="translate(2663.5,1892.9) scale(0.72,1)" font-family="'Liberation Sans', Arial, Helvetica, sans-serif" font-size="16.5" fill="#595959" stroke="#595959" stroke-width="0" text-anchor="end">600</text>
<line x1="2676" y1="1787.85" x2="3150.5" y2="1787.85" stroke="#D9D9D9" stroke-width="1.3"/>
<text transform="translate(2663.5,1793.35) scale(0.72,1)" font-family="'Liberation Sans', Arial, Helvetica, sans-serif" font-size="16.5" fill="#595959" stroke="#595959" stroke-width="0" text-anchor="end">900</text>
<line x1="2676" y1="1688.3" x2="3150.5" y2="1688.3" stroke="#D9D9D9" stroke-width="1.3"/>
<text transform="translate(2663.5,1693.8) scale(0.72,1)" font-family="'Liberation Sans', Arial, Helvetica, sans-serif" font-size="16.5" fill="#595959" stroke="#595959" stroke-width="0" text-anchor="end">1,200</text>
<line x1="2676" y1="1588.75" x2="3150.5" y2="1588.75" stroke="#D9D9D9" stroke-width="1.3"/>
<text transform="translate(2663.5,1594.25) scale(0.72,1)" font-family="'Liberation Sans', Arial, Helvetica, sans-serif" font-size="16.5" fill="#595959" stroke="#595959" stroke-width="0" text-anchor="end">1,500</text>
<rect x="2697.5" y="1645.16" width="27" height="441.338" fill="#2E75B6"/>
<rect x="2724.5" y="1975.34" width="27" height="111.164" fill="#B9669A"/>
<text transform="translate(2711,1634.16) scale(0.72,1)" font-family="'Liberation Sans', Arial, Helvetica, sans-serif" font-size="15.5" fill="#7F7F7F" stroke="#7F7F7F" stroke-width="0" text-anchor="middle">1,330</text>
<text transform="translate(2738,1964.34) scale(0.72,1)" font-family="'Liberation Sans', Arial, Helvetica, sans-serif" font-size="15.5" fill="#7F7F7F" stroke="#7F7F7F" stroke-width="0" text-anchor="middle">335</text>
<text transform="translate(2724.5,2121) scale(0.655,1)" font-family="'Liberation Sans', Arial, Helvetica, sans-serif" font-size="20" fill="#262626" stroke="#262626" stroke-width="0.35" text-anchor="middle">Nogales</text>
<rect x="2790.96" y="1847.58" width="27" height="238.92" fill="#2E75B6"/>
<rect x="2817.96" y="2069.91" width="27" height="16.5917" fill="#B9669A"/>
<text transform="translate(2804.46,1836.58) scale(0.72,1)" font-family="'Liberation Sans', Arial, Helvetica, sans-serif" font-size="15.5" fill="#7F7F7F" stroke="#7F7F7F" stroke-width="0" text-anchor="middle">720</text>
<text transform="translate(2831.46,2058.91) scale(0.72,1)" font-family="'Liberation Sans', Arial, Helvetica, sans-serif" font-size="15.5" fill="#7F7F7F" stroke="#7F7F7F" stroke-width="0" text-anchor="middle">50</text>
<text transform="translate(2817.96,2121) scale(0.655,1)" font-family="'Liberation Sans', Arial, Helvetica, sans-serif" font-size="20" fill="#262626" stroke="#262626" stroke-width="0.35" text-anchor="middle">Agua Prieta</text>
<rect x="2886.82" y="1916.93" width="27" height="169.567" fill="#2E75B6"/>
<rect x="2913.82" y="2028.76" width="27" height="57.739" fill="#B9669A"/>
<text transform="translate(2900.32,1905.93) scale(0.72,1)" font-family="'Liberation Sans', Arial, Helvetica, sans-serif" font-size="15.5" fill="#7F7F7F" stroke="#7F7F7F" stroke-width="0" text-anchor="middle">511</text>
<text transform="translate(2927.32,2017.76) scale(0.72,1)" font-family="'Liberation Sans', Arial, Helvetica, sans-serif" font-size="15.5" fill="#7F7F7F" stroke="#7F7F7F" stroke-width="0" text-anchor="middle">174</text>
<text transform="translate(2913.82,2121) scale(0.655,1)" font-family="'Liberation Sans', Arial, Helvetica, sans-serif" font-size="20" fill="#262626" stroke="#262626" stroke-width="0.35" text-anchor="middle">San Luis Río</text>
<rect x="2981.48" y="1947.46" width="27" height="139.038" fill="#2E75B6"/>
<rect x="3008.48" y="2064.93" width="27" height="21.5692" fill="#B9669A"/>
<text transform="translate(2994.98,1936.46) scale(0.72,1)" font-family="'Liberation Sans', Arial, Helvetica, sans-serif" font-size="15.5" fill="#7F7F7F" stroke="#7F7F7F" stroke-width="0" text-anchor="middle">419</text>
<text transform="translate(3021.98,2053.93) scale(0.72,1)" font-family="'Liberation Sans', Arial, Helvetica, sans-serif" font-size="15.5" fill="#7F7F7F" stroke="#7F7F7F" stroke-width="0" text-anchor="middle">65</text>
<text transform="translate(3008.48,2121) scale(0.655,1)" font-family="'Liberation Sans', Arial, Helvetica, sans-serif" font-size="20" fill="#262626" stroke="#262626" stroke-width="0.35" text-anchor="middle">Hermosillo</text>
<rect x="3076.14" y="1990.27" width="27" height="96.2317" fill="#2E75B6"/>
<rect x="3103.14" y="2075.22" width="27" height="11.2823" fill="#B9669A"/>
<text transform="translate(3089.64,1979.27) scale(0.72,1)" font-family="'Liberation Sans', Arial, Helvetica, sans-serif" font-size="15.5" fill="#7F7F7F" stroke="#7F7F7F" stroke-width="0" text-anchor="middle">290</text>
<text transform="translate(3116.64,2064.22) scale(0.72,1)" font-family="'Liberation Sans', Arial, Helvetica, sans-serif" font-size="15.5" fill="#7F7F7F" stroke="#7F7F7F" stroke-width="0" text-anchor="middle">34</text>
<text transform="translate(3103.14,2121) scale(0.655,1)" font-family="'Liberation Sans', Arial, Helvetica, sans-serif" font-size="20" fill="#262626" stroke="#262626" stroke-width="0.35" text-anchor="middle">Cajeme</text>
<text transform="translate(2913.82,2147) scale(0.655,1)" font-family="'Liberation Sans', Arial, Helvetica, sans-serif" font-size="20" fill="#262626" stroke="#262626" stroke-width="0.35" text-anchor="middle">Colorado</text>
<text x="2606" y="2199" font-family="'Liberation Sans', Arial, Helvetica, sans-serif" font-size="19.5" font-weight="bold" fill="#000" text-anchor="start" textLength="543" lengthAdjust="spacing">Nota: Las cifras se refieren a eventos debido a que una</text>
<text x="2606" y="2223.1" font-family="'Liberation Sans', Arial, Helvetica, sans-serif" font-size="19.5" font-weight="bold" fill="#000" text-anchor="start" textLength="558" lengthAdjust="spacing">misma persona pudo haber sido devuelta (repatriada) en</text>
<text x="2606" y="2247.2" font-family="'Liberation Sans', Arial, Helvetica, sans-serif" font-size="19.5" font-weight="bold" fill="#000" text-anchor="start" textLength="203" lengthAdjust="spacing">más de una ocasión.</text>
<text x="2606" y="2295.4" font-family="'Liberation Sans', Arial, Helvetica, sans-serif" font-size="19.5" font-weight="bold" fill="#000" text-anchor="start" textLength="551" lengthAdjust="spacing">Se excluyen de esta cifra los eventos de repatriación de</text>
<text x="2606" y="2319.5" font-family="'Liberation Sans', Arial, Helvetica, sans-serif" font-size="19.5" font-weight="bold" fill="#000" text-anchor="start" textLength="543" lengthAdjust="spacing">niñas, niños o adolescentes no acompañados debido a</text>
<text x="2606" y="2343.6" font-family="'Liberation Sans', Arial, Helvetica, sans-serif" font-size="19.5" font-weight="bold" fill="#000" text-anchor="start" textLength="553" lengthAdjust="spacing">que la información de su destino no puede conocerse al</text>
<text x="2606" y="2367.7" font-family="'Liberation Sans', Arial, Helvetica, sans-serif" font-size="19.5" font-weight="bold" fill="#000" text-anchor="start" textLength="580" lengthAdjust="spacing">momento de su captura en el sistema, sino que dependerá</text>
<text x="2606" y="2391.8" font-family="'Liberation Sans', Arial, Helvetica, sans-serif" font-size="19.5" font-weight="bold" fill="#000" text-anchor="start" textLength="570" lengthAdjust="spacing">del proceso posterior de reunificación familiar que realiza</text>
<text x="2606" y="2415.9" font-family="'Liberation Sans', Arial, Helvetica, sans-serif" font-size="19.5" font-weight="bold" fill="#000" text-anchor="start" textLength="146" lengthAdjust="spacing">el sistema DIF.</text>
</g>
</svg></body></html>
